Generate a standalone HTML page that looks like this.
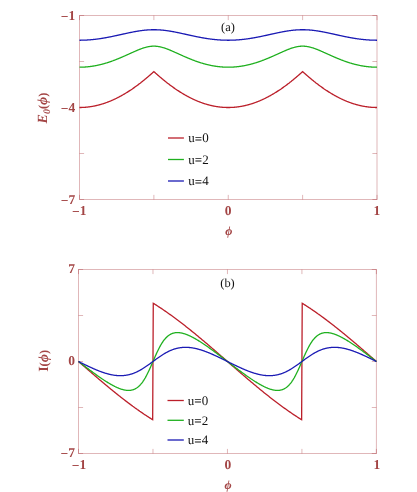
<!DOCTYPE html>
<html><head><meta charset="utf-8"><title>plot</title>
<style>
html,body{margin:0;padding:0;background:#fff;}
body{width:417px;height:492px;overflow:hidden;font-family:"Liberation Serif",serif;}
svg{display:block;will-change:transform;}
text{font-family:"Liberation Serif",serif;text-rendering:geometricPrecision;}
.tk{font-size:13.5px;font-weight:bold;fill:#a34545;}
.lg{font-size:13px;fill:#111;}
.ti{font-size:12.4px;fill:#111;}
.ax{font-size:14px;font-weight:bold;font-style:italic;fill:#a34545;}
</style></head><body>
<svg width="417" height="492" viewBox="0 0 417 492">
<rect width="417" height="492" fill="#fff"/>
<rect x="79.5" y="15.5" width="297.5" height="184.0" fill="none" stroke="#aa3c41" stroke-opacity="0.37" stroke-width="1"/><path d="M79.50,199.5v-4.6M79.50,15.5v4.6M79.5,15.50h4.6M377.0,15.50h-4.6M153.88,199.5v-4.6M153.88,15.5v4.6M79.5,61.50h4.6M377.0,61.50h-4.6M228.25,199.5v-4.6M228.25,15.5v4.6M79.5,107.50h4.6M377.0,107.50h-4.6M302.62,199.5v-4.6M302.62,15.5v4.6M79.5,153.50h4.6M377.0,153.50h-4.6M377.00,199.5v-4.6M377.00,15.5v4.6M79.5,199.50h4.6M377.0,199.50h-4.6" stroke="#aa3c41" stroke-opacity="0.37" stroke-width="1" fill="none"/>
<rect x="78.5" y="269.5" width="297.9" height="184.0" fill="none" stroke="#aa3c41" stroke-opacity="0.37" stroke-width="1"/><path d="M78.50,453.5v-4.6M78.50,269.5v4.6M78.5,269.50h4.6M376.4,269.50h-4.6M152.97,453.5v-4.6M152.97,269.5v4.6M78.5,315.50h4.6M376.4,315.50h-4.6M227.45,453.5v-4.6M227.45,269.5v4.6M78.5,361.50h4.6M376.4,361.50h-4.6M301.92,453.5v-4.6M301.92,269.5v4.6M78.5,407.50h4.6M376.4,407.50h-4.6M376.40,453.5v-4.6M376.40,269.5v4.6M78.5,453.50h4.6M376.4,453.50h-4.6" stroke="#aa3c41" stroke-opacity="0.37" stroke-width="1" fill="none"/>
<g fill="none" stroke-width="1.3" stroke-linejoin="miter">
<path d="M79.50,107.50 L79.87,107.50 L80.24,107.50 L80.62,107.49 L80.99,107.48 L81.36,107.48 L81.73,107.47 L82.10,107.45 L82.48,107.44 L82.85,107.42 L83.22,107.41 L83.59,107.39 L83.96,107.36 L84.33,107.34 L84.71,107.31 L85.08,107.29 L85.45,107.26 L85.82,107.23 L86.19,107.19 L86.57,107.16 L86.94,107.12 L87.31,107.08 L87.68,107.04 L88.05,107.00 L88.43,106.96 L88.80,106.91 L89.17,106.86 L89.54,106.81 L89.91,106.76 L90.28,106.71 L90.66,106.65 L91.03,106.59 L91.40,106.53 L91.77,106.47 L92.14,106.41 L92.52,106.34 L92.89,106.28 L93.26,106.21 L93.63,106.14 L94.00,106.06 L94.38,105.99 L94.75,105.91 L95.12,105.84 L95.49,105.76 L95.86,105.67 L96.23,105.59 L96.61,105.50 L96.98,105.42 L97.35,105.33 L97.72,105.24 L98.09,105.14 L98.47,105.05 L98.84,104.95 L99.21,104.85 L99.58,104.75 L99.95,104.65 L100.33,104.55 L100.70,104.44 L101.07,104.33 L101.44,104.22 L101.81,104.11 L102.18,104.00 L102.56,103.88 L102.93,103.77 L103.30,103.65 L103.67,103.53 L104.04,103.40 L104.42,103.28 L104.79,103.15 L105.16,103.02 L105.53,102.89 L105.90,102.76 L106.27,102.63 L106.65,102.49 L107.02,102.36 L107.39,102.22 L107.76,102.08 L108.13,101.93 L108.51,101.79 L108.88,101.64 L109.25,101.50 L109.62,101.35 L109.99,101.19 L110.37,101.04 L110.74,100.89 L111.11,100.73 L111.48,100.57 L111.85,100.41 L112.22,100.25 L112.60,100.08 L112.97,99.92 L113.34,99.75 L113.71,99.58 L114.08,99.41 L114.46,99.24 L114.83,99.06 L115.20,98.89 L115.57,98.71 L115.94,98.53 L116.32,98.35 L116.69,98.16 L117.06,97.98 L117.43,97.79 L117.80,97.60 L118.18,97.41 L118.55,97.22 L118.92,97.03 L119.29,96.83 L119.66,96.63 L120.03,96.43 L120.41,96.23 L120.78,96.03 L121.15,95.83 L121.52,95.62 L121.89,95.41 L122.27,95.20 L122.64,94.99 L123.01,94.78 L123.38,94.56 L123.75,94.35 L124.12,94.13 L124.50,93.91 L124.87,93.69 L125.24,93.47 L125.61,93.24 L125.98,93.02 L126.36,92.79 L126.73,92.56 L127.10,92.33 L127.47,92.09 L127.84,91.86 L128.22,91.62 L128.59,91.39 L128.96,91.15 L129.33,90.90 L129.70,90.66 L130.08,90.42 L130.45,90.17 L130.82,89.92 L131.19,89.67 L131.56,89.42 L131.93,89.17 L132.31,88.92 L132.68,88.66 L133.05,88.40 L133.42,88.15 L133.79,87.88 L134.17,87.62 L134.54,87.36 L134.91,87.09 L135.28,86.83 L135.65,86.56 L136.03,86.29 L136.40,86.02 L136.77,85.74 L137.14,85.47 L137.51,85.19 L137.88,84.92 L138.26,84.64 L138.63,84.36 L139.00,84.07 L139.37,83.79 L139.74,83.50 L140.12,83.22 L140.49,82.93 L140.86,82.64 L141.23,82.35 L141.60,82.05 L141.97,81.76 L142.35,81.46 L142.72,81.17 L143.09,80.87 L143.46,80.57 L143.83,80.26 L144.21,79.96 L144.58,79.66 L144.95,79.35 L145.32,79.04 L145.69,78.73 L146.07,78.42 L146.44,78.11 L146.81,77.80 L147.18,77.48 L147.55,77.16 L147.93,76.85 L148.30,76.53 L148.67,76.21 L149.04,75.88 L149.41,75.56 L149.78,75.24 L150.16,74.91 L150.53,74.58 L150.90,74.25 L151.27,73.92 L151.64,73.59 L152.02,73.26 L152.39,72.92 L152.76,72.59 L153.13,72.25 L153.50,71.91 L153.88,71.57 L154.25,71.91 L154.62,72.25 L154.99,72.59 L155.36,72.92 L155.73,73.26 L156.11,73.59 L156.48,73.92 L156.85,74.25 L157.22,74.58 L157.59,74.91 L157.97,75.24 L158.34,75.56 L158.71,75.88 L159.08,76.21 L159.45,76.53 L159.82,76.85 L160.20,77.16 L160.57,77.48 L160.94,77.80 L161.31,78.11 L161.68,78.42 L162.06,78.73 L162.43,79.04 L162.80,79.35 L163.17,79.66 L163.54,79.96 L163.92,80.26 L164.29,80.57 L164.66,80.87 L165.03,81.17 L165.40,81.46 L165.77,81.76 L166.15,82.05 L166.52,82.35 L166.89,82.64 L167.26,82.93 L167.63,83.22 L168.01,83.50 L168.38,83.79 L168.75,84.07 L169.12,84.36 L169.49,84.64 L169.87,84.92 L170.24,85.19 L170.61,85.47 L170.98,85.74 L171.35,86.02 L171.72,86.29 L172.10,86.56 L172.47,86.83 L172.84,87.09 L173.21,87.36 L173.58,87.62 L173.96,87.88 L174.33,88.15 L174.70,88.40 L175.07,88.66 L175.44,88.92 L175.82,89.17 L176.19,89.42 L176.56,89.67 L176.93,89.92 L177.30,90.17 L177.68,90.42 L178.05,90.66 L178.42,90.90 L178.79,91.15 L179.16,91.39 L179.53,91.62 L179.91,91.86 L180.28,92.09 L180.65,92.33 L181.02,92.56 L181.39,92.79 L181.77,93.02 L182.14,93.24 L182.51,93.47 L182.88,93.69 L183.25,93.91 L183.62,94.13 L184.00,94.35 L184.37,94.56 L184.74,94.78 L185.11,94.99 L185.48,95.20 L185.86,95.41 L186.23,95.62 L186.60,95.83 L186.97,96.03 L187.34,96.23 L187.72,96.43 L188.09,96.63 L188.46,96.83 L188.83,97.03 L189.20,97.22 L189.57,97.41 L189.95,97.60 L190.32,97.79 L190.69,97.98 L191.06,98.16 L191.43,98.35 L191.81,98.53 L192.18,98.71 L192.55,98.89 L192.92,99.06 L193.29,99.24 L193.67,99.41 L194.04,99.58 L194.41,99.75 L194.78,99.92 L195.15,100.08 L195.53,100.25 L195.90,100.41 L196.27,100.57 L196.64,100.73 L197.01,100.89 L197.38,101.04 L197.76,101.19 L198.13,101.35 L198.50,101.50 L198.87,101.64 L199.24,101.79 L199.62,101.93 L199.99,102.08 L200.36,102.22 L200.73,102.36 L201.10,102.49 L201.48,102.63 L201.85,102.76 L202.22,102.89 L202.59,103.02 L202.96,103.15 L203.33,103.28 L203.71,103.40 L204.08,103.53 L204.45,103.65 L204.82,103.77 L205.19,103.88 L205.57,104.00 L205.94,104.11 L206.31,104.22 L206.68,104.33 L207.05,104.44 L207.43,104.55 L207.80,104.65 L208.17,104.75 L208.54,104.85 L208.91,104.95 L209.28,105.05 L209.66,105.14 L210.03,105.24 L210.40,105.33 L210.77,105.42 L211.14,105.50 L211.52,105.59 L211.89,105.67 L212.26,105.76 L212.63,105.84 L213.00,105.91 L213.38,105.99 L213.75,106.06 L214.12,106.14 L214.49,106.21 L214.86,106.28 L215.23,106.34 L215.61,106.41 L215.98,106.47 L216.35,106.53 L216.72,106.59 L217.09,106.65 L217.47,106.71 L217.84,106.76 L218.21,106.81 L218.58,106.86 L218.95,106.91 L219.33,106.96 L219.70,107.00 L220.07,107.04 L220.44,107.08 L220.81,107.12 L221.18,107.16 L221.56,107.19 L221.93,107.23 L222.30,107.26 L222.67,107.29 L223.04,107.31 L223.42,107.34 L223.79,107.36 L224.16,107.39 L224.53,107.41 L224.90,107.42 L225.28,107.44 L225.65,107.45 L226.02,107.47 L226.39,107.48 L226.76,107.48 L227.13,107.49 L227.51,107.50 L227.88,107.50 L228.25,107.50 L228.62,107.50 L228.99,107.50 L229.37,107.49 L229.74,107.48 L230.11,107.48 L230.48,107.47 L230.85,107.45 L231.22,107.44 L231.60,107.42 L231.97,107.41 L232.34,107.39 L232.71,107.36 L233.08,107.34 L233.46,107.31 L233.83,107.29 L234.20,107.26 L234.57,107.23 L234.94,107.19 L235.32,107.16 L235.69,107.12 L236.06,107.08 L236.43,107.04 L236.80,107.00 L237.18,106.96 L237.55,106.91 L237.92,106.86 L238.29,106.81 L238.66,106.76 L239.03,106.71 L239.41,106.65 L239.78,106.59 L240.15,106.53 L240.52,106.47 L240.89,106.41 L241.27,106.34 L241.64,106.28 L242.01,106.21 L242.38,106.14 L242.75,106.06 L243.12,105.99 L243.50,105.91 L243.87,105.84 L244.24,105.76 L244.61,105.67 L244.98,105.59 L245.36,105.50 L245.73,105.42 L246.10,105.33 L246.47,105.24 L246.84,105.14 L247.22,105.05 L247.59,104.95 L247.96,104.85 L248.33,104.75 L248.70,104.65 L249.08,104.55 L249.45,104.44 L249.82,104.33 L250.19,104.22 L250.56,104.11 L250.93,104.00 L251.31,103.88 L251.68,103.77 L252.05,103.65 L252.42,103.53 L252.79,103.40 L253.17,103.28 L253.54,103.15 L253.91,103.02 L254.28,102.89 L254.65,102.76 L255.02,102.63 L255.40,102.49 L255.77,102.36 L256.14,102.22 L256.51,102.08 L256.88,101.93 L257.26,101.79 L257.63,101.64 L258.00,101.50 L258.37,101.35 L258.74,101.19 L259.12,101.04 L259.49,100.89 L259.86,100.73 L260.23,100.57 L260.60,100.41 L260.98,100.25 L261.35,100.08 L261.72,99.92 L262.09,99.75 L262.46,99.58 L262.83,99.41 L263.21,99.24 L263.58,99.06 L263.95,98.89 L264.32,98.71 L264.69,98.53 L265.07,98.35 L265.44,98.16 L265.81,97.98 L266.18,97.79 L266.55,97.60 L266.93,97.41 L267.30,97.22 L267.67,97.03 L268.04,96.83 L268.41,96.63 L268.78,96.43 L269.16,96.23 L269.53,96.03 L269.90,95.83 L270.27,95.62 L270.64,95.41 L271.02,95.20 L271.39,94.99 L271.76,94.78 L272.13,94.56 L272.50,94.35 L272.88,94.13 L273.25,93.91 L273.62,93.69 L273.99,93.47 L274.36,93.24 L274.73,93.02 L275.11,92.79 L275.48,92.56 L275.85,92.33 L276.22,92.09 L276.59,91.86 L276.97,91.62 L277.34,91.39 L277.71,91.15 L278.08,90.90 L278.45,90.66 L278.83,90.42 L279.20,90.17 L279.57,89.92 L279.94,89.67 L280.31,89.42 L280.68,89.17 L281.06,88.92 L281.43,88.66 L281.80,88.40 L282.17,88.15 L282.54,87.88 L282.92,87.62 L283.29,87.36 L283.66,87.09 L284.03,86.83 L284.40,86.56 L284.77,86.29 L285.15,86.02 L285.52,85.74 L285.89,85.47 L286.26,85.19 L286.63,84.92 L287.01,84.64 L287.38,84.36 L287.75,84.07 L288.12,83.79 L288.49,83.50 L288.87,83.22 L289.24,82.93 L289.61,82.64 L289.98,82.35 L290.35,82.05 L290.73,81.76 L291.10,81.46 L291.47,81.17 L291.84,80.87 L292.21,80.57 L292.58,80.26 L292.96,79.96 L293.33,79.66 L293.70,79.35 L294.07,79.04 L294.44,78.73 L294.82,78.42 L295.19,78.11 L295.56,77.80 L295.93,77.48 L296.30,77.16 L296.67,76.85 L297.05,76.53 L297.42,76.21 L297.79,75.88 L298.16,75.56 L298.53,75.24 L298.91,74.91 L299.28,74.58 L299.65,74.25 L300.02,73.92 L300.39,73.59 L300.77,73.26 L301.14,72.92 L301.51,72.59 L301.88,72.25 L302.25,71.91 L302.62,71.57 L303.00,71.91 L303.37,72.25 L303.74,72.59 L304.11,72.92 L304.48,73.26 L304.86,73.59 L305.23,73.92 L305.60,74.25 L305.97,74.58 L306.34,74.91 L306.72,75.24 L307.09,75.56 L307.46,75.88 L307.83,76.21 L308.20,76.53 L308.58,76.85 L308.95,77.16 L309.32,77.48 L309.69,77.80 L310.06,78.11 L310.43,78.42 L310.81,78.73 L311.18,79.04 L311.55,79.35 L311.92,79.66 L312.29,79.96 L312.67,80.26 L313.04,80.57 L313.41,80.87 L313.78,81.17 L314.15,81.46 L314.52,81.76 L314.90,82.05 L315.27,82.35 L315.64,82.64 L316.01,82.93 L316.38,83.22 L316.76,83.50 L317.13,83.79 L317.50,84.07 L317.87,84.36 L318.24,84.64 L318.62,84.92 L318.99,85.19 L319.36,85.47 L319.73,85.74 L320.10,86.02 L320.48,86.29 L320.85,86.56 L321.22,86.83 L321.59,87.09 L321.96,87.36 L322.33,87.62 L322.71,87.88 L323.08,88.15 L323.45,88.40 L323.82,88.66 L324.19,88.92 L324.57,89.17 L324.94,89.42 L325.31,89.67 L325.68,89.92 L326.05,90.17 L326.43,90.42 L326.80,90.66 L327.17,90.90 L327.54,91.15 L327.91,91.39 L328.28,91.62 L328.66,91.86 L329.03,92.09 L329.40,92.33 L329.77,92.56 L330.14,92.79 L330.52,93.02 L330.89,93.24 L331.26,93.47 L331.63,93.69 L332.00,93.91 L332.38,94.13 L332.75,94.35 L333.12,94.56 L333.49,94.78 L333.86,94.99 L334.23,95.20 L334.61,95.41 L334.98,95.62 L335.35,95.83 L335.72,96.03 L336.09,96.23 L336.47,96.43 L336.84,96.63 L337.21,96.83 L337.58,97.03 L337.95,97.22 L338.32,97.41 L338.70,97.60 L339.07,97.79 L339.44,97.98 L339.81,98.16 L340.18,98.35 L340.56,98.53 L340.93,98.71 L341.30,98.89 L341.67,99.06 L342.04,99.24 L342.42,99.41 L342.79,99.58 L343.16,99.75 L343.53,99.92 L343.90,100.08 L344.27,100.25 L344.65,100.41 L345.02,100.57 L345.39,100.73 L345.76,100.89 L346.13,101.04 L346.51,101.19 L346.88,101.35 L347.25,101.50 L347.62,101.64 L347.99,101.79 L348.37,101.93 L348.74,102.08 L349.11,102.22 L349.48,102.36 L349.85,102.49 L350.23,102.63 L350.60,102.76 L350.97,102.89 L351.34,103.02 L351.71,103.15 L352.08,103.28 L352.46,103.40 L352.83,103.53 L353.20,103.65 L353.57,103.77 L353.94,103.88 L354.32,104.00 L354.69,104.11 L355.06,104.22 L355.43,104.33 L355.80,104.44 L356.18,104.55 L356.55,104.65 L356.92,104.75 L357.29,104.85 L357.66,104.95 L358.03,105.05 L358.41,105.14 L358.78,105.24 L359.15,105.33 L359.52,105.42 L359.89,105.50 L360.27,105.59 L360.64,105.67 L361.01,105.76 L361.38,105.84 L361.75,105.91 L362.12,105.99 L362.50,106.06 L362.87,106.14 L363.24,106.21 L363.61,106.28 L363.98,106.34 L364.36,106.41 L364.73,106.47 L365.10,106.53 L365.47,106.59 L365.84,106.65 L366.22,106.71 L366.59,106.76 L366.96,106.81 L367.33,106.86 L367.70,106.91 L368.07,106.96 L368.45,107.00 L368.82,107.04 L369.19,107.08 L369.56,107.12 L369.93,107.16 L370.31,107.19 L370.68,107.23 L371.05,107.26 L371.42,107.29 L371.79,107.31 L372.17,107.34 L372.54,107.36 L372.91,107.39 L373.28,107.41 L373.65,107.42 L374.02,107.44 L374.40,107.45 L374.77,107.47 L375.14,107.48 L375.51,107.48 L375.88,107.49 L376.26,107.50 L376.63,107.50 L377.00,107.50" stroke="#bb1f2a"/>
<path d="M79.50,67.20 L79.87,67.20 L80.24,67.20 L80.62,67.19 L80.99,67.19 L81.36,67.18 L81.73,67.17 L82.10,67.16 L82.48,67.15 L82.85,67.13 L83.22,67.12 L83.59,67.10 L83.96,67.08 L84.33,67.06 L84.71,67.04 L85.08,67.01 L85.45,66.99 L85.82,66.96 L86.19,66.93 L86.57,66.90 L86.94,66.87 L87.31,66.83 L87.68,66.80 L88.05,66.76 L88.43,66.72 L88.80,66.68 L89.17,66.64 L89.54,66.60 L89.91,66.55 L90.28,66.50 L90.66,66.46 L91.03,66.40 L91.40,66.35 L91.77,66.30 L92.14,66.24 L92.52,66.19 L92.89,66.13 L93.26,66.07 L93.63,66.01 L94.00,65.95 L94.38,65.88 L94.75,65.81 L95.12,65.75 L95.49,65.68 L95.86,65.61 L96.23,65.53 L96.61,65.46 L96.98,65.38 L97.35,65.31 L97.72,65.23 L98.09,65.15 L98.47,65.07 L98.84,64.98 L99.21,64.90 L99.58,64.81 L99.95,64.72 L100.33,64.63 L100.70,64.54 L101.07,64.45 L101.44,64.36 L101.81,64.26 L102.18,64.16 L102.56,64.06 L102.93,63.96 L103.30,63.86 L103.67,63.76 L104.04,63.66 L104.42,63.55 L104.79,63.44 L105.16,63.33 L105.53,63.22 L105.90,63.11 L106.27,63.00 L106.65,62.89 L107.02,62.77 L107.39,62.65 L107.76,62.53 L108.13,62.41 L108.51,62.29 L108.88,62.17 L109.25,62.05 L109.62,61.92 L109.99,61.80 L110.37,61.67 L110.74,61.54 L111.11,61.41 L111.48,61.28 L111.85,61.14 L112.22,61.01 L112.60,60.88 L112.97,60.74 L113.34,60.60 L113.71,60.46 L114.08,60.32 L114.46,60.18 L114.83,60.04 L115.20,59.90 L115.57,59.75 L115.94,59.61 L116.32,59.46 L116.69,59.31 L117.06,59.16 L117.43,59.01 L117.80,58.86 L118.18,58.71 L118.55,58.56 L118.92,58.40 L119.29,58.25 L119.66,58.09 L120.03,57.94 L120.41,57.78 L120.78,57.62 L121.15,57.46 L121.52,57.31 L121.89,57.15 L122.27,56.98 L122.64,56.82 L123.01,56.66 L123.38,56.50 L123.75,56.33 L124.12,56.17 L124.50,56.00 L124.87,55.84 L125.24,55.67 L125.61,55.51 L125.98,55.34 L126.36,55.17 L126.73,55.01 L127.10,54.84 L127.47,54.67 L127.84,54.50 L128.22,54.33 L128.59,54.17 L128.96,54.00 L129.33,53.83 L129.70,53.66 L130.08,53.49 L130.45,53.32 L130.82,53.15 L131.19,52.99 L131.56,52.82 L131.93,52.65 L132.31,52.48 L132.68,52.32 L133.05,52.15 L133.42,51.98 L133.79,51.82 L134.17,51.65 L134.54,51.49 L134.91,51.33 L135.28,51.17 L135.65,51.00 L136.03,50.84 L136.40,50.68 L136.77,50.53 L137.14,50.37 L137.51,50.21 L137.88,50.06 L138.26,49.91 L138.63,49.76 L139.00,49.61 L139.37,49.46 L139.74,49.32 L140.12,49.17 L140.49,49.03 L140.86,48.89 L141.23,48.75 L141.60,48.62 L141.97,48.49 L142.35,48.36 L142.72,48.23 L143.09,48.11 L143.46,47.98 L143.83,47.87 L144.21,47.75 L144.58,47.64 L144.95,47.53 L145.32,47.43 L145.69,47.32 L146.07,47.23 L146.44,47.13 L146.81,47.04 L147.18,46.95 L147.55,46.87 L147.93,46.79 L148.30,46.72 L148.67,46.65 L149.04,46.58 L149.41,46.52 L149.78,46.47 L150.16,46.42 L150.53,46.37 L150.90,46.33 L151.27,46.29 L151.64,46.26 L152.02,46.23 L152.39,46.21 L152.76,46.19 L153.13,46.18 L153.50,46.17 L153.88,46.17 L154.25,46.17 L154.62,46.18 L154.99,46.19 L155.36,46.21 L155.73,46.23 L156.11,46.26 L156.48,46.29 L156.85,46.33 L157.22,46.37 L157.59,46.42 L157.97,46.47 L158.34,46.52 L158.71,46.58 L159.08,46.65 L159.45,46.72 L159.82,46.79 L160.20,46.87 L160.57,46.95 L160.94,47.04 L161.31,47.13 L161.68,47.23 L162.06,47.32 L162.43,47.43 L162.80,47.53 L163.17,47.64 L163.54,47.75 L163.92,47.87 L164.29,47.98 L164.66,48.11 L165.03,48.23 L165.40,48.36 L165.77,48.49 L166.15,48.62 L166.52,48.75 L166.89,48.89 L167.26,49.03 L167.63,49.17 L168.01,49.32 L168.38,49.46 L168.75,49.61 L169.12,49.76 L169.49,49.91 L169.87,50.06 L170.24,50.21 L170.61,50.37 L170.98,50.53 L171.35,50.68 L171.72,50.84 L172.10,51.00 L172.47,51.17 L172.84,51.33 L173.21,51.49 L173.58,51.65 L173.96,51.82 L174.33,51.98 L174.70,52.15 L175.07,52.32 L175.44,52.48 L175.82,52.65 L176.19,52.82 L176.56,52.99 L176.93,53.15 L177.30,53.32 L177.68,53.49 L178.05,53.66 L178.42,53.83 L178.79,54.00 L179.16,54.17 L179.53,54.33 L179.91,54.50 L180.28,54.67 L180.65,54.84 L181.02,55.01 L181.39,55.17 L181.77,55.34 L182.14,55.51 L182.51,55.67 L182.88,55.84 L183.25,56.00 L183.62,56.17 L184.00,56.33 L184.37,56.50 L184.74,56.66 L185.11,56.82 L185.48,56.98 L185.86,57.15 L186.23,57.31 L186.60,57.46 L186.97,57.62 L187.34,57.78 L187.72,57.94 L188.09,58.09 L188.46,58.25 L188.83,58.40 L189.20,58.56 L189.57,58.71 L189.95,58.86 L190.32,59.01 L190.69,59.16 L191.06,59.31 L191.43,59.46 L191.81,59.61 L192.18,59.75 L192.55,59.90 L192.92,60.04 L193.29,60.18 L193.67,60.32 L194.04,60.46 L194.41,60.60 L194.78,60.74 L195.15,60.88 L195.53,61.01 L195.90,61.14 L196.27,61.28 L196.64,61.41 L197.01,61.54 L197.38,61.67 L197.76,61.80 L198.13,61.92 L198.50,62.05 L198.87,62.17 L199.24,62.29 L199.62,62.41 L199.99,62.53 L200.36,62.65 L200.73,62.77 L201.10,62.89 L201.48,63.00 L201.85,63.11 L202.22,63.22 L202.59,63.33 L202.96,63.44 L203.33,63.55 L203.71,63.66 L204.08,63.76 L204.45,63.86 L204.82,63.96 L205.19,64.06 L205.57,64.16 L205.94,64.26 L206.31,64.36 L206.68,64.45 L207.05,64.54 L207.43,64.63 L207.80,64.72 L208.17,64.81 L208.54,64.90 L208.91,64.98 L209.28,65.07 L209.66,65.15 L210.03,65.23 L210.40,65.31 L210.77,65.38 L211.14,65.46 L211.52,65.53 L211.89,65.61 L212.26,65.68 L212.63,65.75 L213.00,65.81 L213.38,65.88 L213.75,65.95 L214.12,66.01 L214.49,66.07 L214.86,66.13 L215.23,66.19 L215.61,66.24 L215.98,66.30 L216.35,66.35 L216.72,66.40 L217.09,66.46 L217.47,66.50 L217.84,66.55 L218.21,66.60 L218.58,66.64 L218.95,66.68 L219.33,66.72 L219.70,66.76 L220.07,66.80 L220.44,66.83 L220.81,66.87 L221.18,66.90 L221.56,66.93 L221.93,66.96 L222.30,66.99 L222.67,67.01 L223.04,67.04 L223.42,67.06 L223.79,67.08 L224.16,67.10 L224.53,67.12 L224.90,67.13 L225.28,67.15 L225.65,67.16 L226.02,67.17 L226.39,67.18 L226.76,67.19 L227.13,67.19 L227.51,67.20 L227.88,67.20 L228.25,67.20 L228.62,67.20 L228.99,67.20 L229.37,67.19 L229.74,67.19 L230.11,67.18 L230.48,67.17 L230.85,67.16 L231.22,67.15 L231.60,67.13 L231.97,67.12 L232.34,67.10 L232.71,67.08 L233.08,67.06 L233.46,67.04 L233.83,67.01 L234.20,66.99 L234.57,66.96 L234.94,66.93 L235.32,66.90 L235.69,66.87 L236.06,66.83 L236.43,66.80 L236.80,66.76 L237.18,66.72 L237.55,66.68 L237.92,66.64 L238.29,66.60 L238.66,66.55 L239.03,66.50 L239.41,66.46 L239.78,66.40 L240.15,66.35 L240.52,66.30 L240.89,66.24 L241.27,66.19 L241.64,66.13 L242.01,66.07 L242.38,66.01 L242.75,65.95 L243.12,65.88 L243.50,65.81 L243.87,65.75 L244.24,65.68 L244.61,65.61 L244.98,65.53 L245.36,65.46 L245.73,65.38 L246.10,65.31 L246.47,65.23 L246.84,65.15 L247.22,65.07 L247.59,64.98 L247.96,64.90 L248.33,64.81 L248.70,64.72 L249.08,64.63 L249.45,64.54 L249.82,64.45 L250.19,64.36 L250.56,64.26 L250.93,64.16 L251.31,64.06 L251.68,63.96 L252.05,63.86 L252.42,63.76 L252.79,63.66 L253.17,63.55 L253.54,63.44 L253.91,63.33 L254.28,63.22 L254.65,63.11 L255.02,63.00 L255.40,62.89 L255.77,62.77 L256.14,62.65 L256.51,62.53 L256.88,62.41 L257.26,62.29 L257.63,62.17 L258.00,62.05 L258.37,61.92 L258.74,61.80 L259.12,61.67 L259.49,61.54 L259.86,61.41 L260.23,61.28 L260.60,61.14 L260.98,61.01 L261.35,60.88 L261.72,60.74 L262.09,60.60 L262.46,60.46 L262.83,60.32 L263.21,60.18 L263.58,60.04 L263.95,59.90 L264.32,59.75 L264.69,59.61 L265.07,59.46 L265.44,59.31 L265.81,59.16 L266.18,59.01 L266.55,58.86 L266.93,58.71 L267.30,58.56 L267.67,58.40 L268.04,58.25 L268.41,58.09 L268.78,57.94 L269.16,57.78 L269.53,57.62 L269.90,57.46 L270.27,57.31 L270.64,57.15 L271.02,56.98 L271.39,56.82 L271.76,56.66 L272.13,56.50 L272.50,56.33 L272.88,56.17 L273.25,56.00 L273.62,55.84 L273.99,55.67 L274.36,55.51 L274.73,55.34 L275.11,55.17 L275.48,55.01 L275.85,54.84 L276.22,54.67 L276.59,54.50 L276.97,54.33 L277.34,54.17 L277.71,54.00 L278.08,53.83 L278.45,53.66 L278.83,53.49 L279.20,53.32 L279.57,53.15 L279.94,52.99 L280.31,52.82 L280.68,52.65 L281.06,52.48 L281.43,52.32 L281.80,52.15 L282.17,51.98 L282.54,51.82 L282.92,51.65 L283.29,51.49 L283.66,51.33 L284.03,51.17 L284.40,51.00 L284.77,50.84 L285.15,50.68 L285.52,50.53 L285.89,50.37 L286.26,50.21 L286.63,50.06 L287.01,49.91 L287.38,49.76 L287.75,49.61 L288.12,49.46 L288.49,49.32 L288.87,49.17 L289.24,49.03 L289.61,48.89 L289.98,48.75 L290.35,48.62 L290.73,48.49 L291.10,48.36 L291.47,48.23 L291.84,48.11 L292.21,47.98 L292.58,47.87 L292.96,47.75 L293.33,47.64 L293.70,47.53 L294.07,47.43 L294.44,47.32 L294.82,47.23 L295.19,47.13 L295.56,47.04 L295.93,46.95 L296.30,46.87 L296.67,46.79 L297.05,46.72 L297.42,46.65 L297.79,46.58 L298.16,46.52 L298.53,46.47 L298.91,46.42 L299.28,46.37 L299.65,46.33 L300.02,46.29 L300.39,46.26 L300.77,46.23 L301.14,46.21 L301.51,46.19 L301.88,46.18 L302.25,46.17 L302.62,46.17 L303.00,46.17 L303.37,46.18 L303.74,46.19 L304.11,46.21 L304.48,46.23 L304.86,46.26 L305.23,46.29 L305.60,46.33 L305.97,46.37 L306.34,46.42 L306.72,46.47 L307.09,46.52 L307.46,46.58 L307.83,46.65 L308.20,46.72 L308.58,46.79 L308.95,46.87 L309.32,46.95 L309.69,47.04 L310.06,47.13 L310.43,47.23 L310.81,47.32 L311.18,47.43 L311.55,47.53 L311.92,47.64 L312.29,47.75 L312.67,47.87 L313.04,47.98 L313.41,48.11 L313.78,48.23 L314.15,48.36 L314.52,48.49 L314.90,48.62 L315.27,48.75 L315.64,48.89 L316.01,49.03 L316.38,49.17 L316.76,49.32 L317.13,49.46 L317.50,49.61 L317.87,49.76 L318.24,49.91 L318.62,50.06 L318.99,50.21 L319.36,50.37 L319.73,50.53 L320.10,50.68 L320.48,50.84 L320.85,51.00 L321.22,51.17 L321.59,51.33 L321.96,51.49 L322.33,51.65 L322.71,51.82 L323.08,51.98 L323.45,52.15 L323.82,52.32 L324.19,52.48 L324.57,52.65 L324.94,52.82 L325.31,52.99 L325.68,53.15 L326.05,53.32 L326.43,53.49 L326.80,53.66 L327.17,53.83 L327.54,54.00 L327.91,54.17 L328.28,54.33 L328.66,54.50 L329.03,54.67 L329.40,54.84 L329.77,55.01 L330.14,55.17 L330.52,55.34 L330.89,55.51 L331.26,55.67 L331.63,55.84 L332.00,56.00 L332.38,56.17 L332.75,56.33 L333.12,56.50 L333.49,56.66 L333.86,56.82 L334.23,56.98 L334.61,57.15 L334.98,57.31 L335.35,57.46 L335.72,57.62 L336.09,57.78 L336.47,57.94 L336.84,58.09 L337.21,58.25 L337.58,58.40 L337.95,58.56 L338.32,58.71 L338.70,58.86 L339.07,59.01 L339.44,59.16 L339.81,59.31 L340.18,59.46 L340.56,59.61 L340.93,59.75 L341.30,59.90 L341.67,60.04 L342.04,60.18 L342.42,60.32 L342.79,60.46 L343.16,60.60 L343.53,60.74 L343.90,60.88 L344.27,61.01 L344.65,61.14 L345.02,61.28 L345.39,61.41 L345.76,61.54 L346.13,61.67 L346.51,61.80 L346.88,61.92 L347.25,62.05 L347.62,62.17 L347.99,62.29 L348.37,62.41 L348.74,62.53 L349.11,62.65 L349.48,62.77 L349.85,62.89 L350.23,63.00 L350.60,63.11 L350.97,63.22 L351.34,63.33 L351.71,63.44 L352.08,63.55 L352.46,63.66 L352.83,63.76 L353.20,63.86 L353.57,63.96 L353.94,64.06 L354.32,64.16 L354.69,64.26 L355.06,64.36 L355.43,64.45 L355.80,64.54 L356.18,64.63 L356.55,64.72 L356.92,64.81 L357.29,64.90 L357.66,64.98 L358.03,65.07 L358.41,65.15 L358.78,65.23 L359.15,65.31 L359.52,65.38 L359.89,65.46 L360.27,65.53 L360.64,65.61 L361.01,65.68 L361.38,65.75 L361.75,65.81 L362.12,65.88 L362.50,65.95 L362.87,66.01 L363.24,66.07 L363.61,66.13 L363.98,66.19 L364.36,66.24 L364.73,66.30 L365.10,66.35 L365.47,66.40 L365.84,66.46 L366.22,66.50 L366.59,66.55 L366.96,66.60 L367.33,66.64 L367.70,66.68 L368.07,66.72 L368.45,66.76 L368.82,66.80 L369.19,66.83 L369.56,66.87 L369.93,66.90 L370.31,66.93 L370.68,66.96 L371.05,66.99 L371.42,67.01 L371.79,67.04 L372.17,67.06 L372.54,67.08 L372.91,67.10 L373.28,67.12 L373.65,67.13 L374.02,67.15 L374.40,67.16 L374.77,67.17 L375.14,67.18 L375.51,67.19 L375.88,67.19 L376.26,67.20 L376.63,67.20 L377.00,67.20" stroke="#1fb01f"/>
<path d="M79.50,40.23 L79.87,40.23 L80.24,40.23 L80.62,40.23 L80.99,40.22 L81.36,40.22 L81.73,40.21 L82.10,40.20 L82.48,40.20 L82.85,40.19 L83.22,40.18 L83.59,40.17 L83.96,40.15 L84.33,40.14 L84.71,40.12 L85.08,40.11 L85.45,40.09 L85.82,40.08 L86.19,40.06 L86.57,40.04 L86.94,40.02 L87.31,39.99 L87.68,39.97 L88.05,39.95 L88.43,39.92 L88.80,39.90 L89.17,39.87 L89.54,39.84 L89.91,39.81 L90.28,39.78 L90.66,39.75 L91.03,39.72 L91.40,39.69 L91.77,39.65 L92.14,39.62 L92.52,39.58 L92.89,39.54 L93.26,39.50 L93.63,39.47 L94.00,39.43 L94.38,39.38 L94.75,39.34 L95.12,39.30 L95.49,39.26 L95.86,39.21 L96.23,39.16 L96.61,39.12 L96.98,39.07 L97.35,39.02 L97.72,38.97 L98.09,38.92 L98.47,38.87 L98.84,38.82 L99.21,38.77 L99.58,38.71 L99.95,38.66 L100.33,38.60 L100.70,38.55 L101.07,38.49 L101.44,38.43 L101.81,38.37 L102.18,38.31 L102.56,38.25 L102.93,38.19 L103.30,38.13 L103.67,38.07 L104.04,38.00 L104.42,37.94 L104.79,37.87 L105.16,37.81 L105.53,37.74 L105.90,37.67 L106.27,37.61 L106.65,37.54 L107.02,37.47 L107.39,37.40 L107.76,37.33 L108.13,37.26 L108.51,37.19 L108.88,37.12 L109.25,37.04 L109.62,36.97 L109.99,36.90 L110.37,36.82 L110.74,36.75 L111.11,36.67 L111.48,36.60 L111.85,36.52 L112.22,36.44 L112.60,36.37 L112.97,36.29 L113.34,36.21 L113.71,36.13 L114.08,36.05 L114.46,35.97 L114.83,35.89 L115.20,35.81 L115.57,35.73 L115.94,35.65 L116.32,35.57 L116.69,35.49 L117.06,35.41 L117.43,35.33 L117.80,35.25 L118.18,35.17 L118.55,35.08 L118.92,35.00 L119.29,34.92 L119.66,34.84 L120.03,34.75 L120.41,34.67 L120.78,34.59 L121.15,34.51 L121.52,34.42 L121.89,34.34 L122.27,34.26 L122.64,34.18 L123.01,34.09 L123.38,34.01 L123.75,33.93 L124.12,33.85 L124.50,33.76 L124.87,33.68 L125.24,33.60 L125.61,33.52 L125.98,33.44 L126.36,33.36 L126.73,33.28 L127.10,33.20 L127.47,33.12 L127.84,33.04 L128.22,32.96 L128.59,32.88 L128.96,32.80 L129.33,32.72 L129.70,32.65 L130.08,32.57 L130.45,32.49 L130.82,32.42 L131.19,32.34 L131.56,32.27 L131.93,32.19 L132.31,32.12 L132.68,32.05 L133.05,31.98 L133.42,31.90 L133.79,31.83 L134.17,31.76 L134.54,31.69 L134.91,31.63 L135.28,31.56 L135.65,31.49 L136.03,31.43 L136.40,31.36 L136.77,31.30 L137.14,31.24 L137.51,31.18 L137.88,31.11 L138.26,31.06 L138.63,31.00 L139.00,30.94 L139.37,30.88 L139.74,30.83 L140.12,30.77 L140.49,30.72 L140.86,30.67 L141.23,30.62 L141.60,30.57 L141.97,30.52 L142.35,30.47 L142.72,30.43 L143.09,30.38 L143.46,30.34 L143.83,30.30 L144.21,30.26 L144.58,30.22 L144.95,30.18 L145.32,30.15 L145.69,30.11 L146.07,30.08 L146.44,30.05 L146.81,30.02 L147.18,29.99 L147.55,29.96 L147.93,29.94 L148.30,29.91 L148.67,29.89 L149.04,29.87 L149.41,29.85 L149.78,29.83 L150.16,29.81 L150.53,29.80 L150.90,29.78 L151.27,29.77 L151.64,29.76 L152.02,29.75 L152.39,29.75 L152.76,29.74 L153.13,29.74 L153.50,29.73 L153.88,29.73 L154.25,29.73 L154.62,29.74 L154.99,29.74 L155.36,29.75 L155.73,29.75 L156.11,29.76 L156.48,29.77 L156.85,29.78 L157.22,29.80 L157.59,29.81 L157.97,29.83 L158.34,29.85 L158.71,29.87 L159.08,29.89 L159.45,29.91 L159.82,29.94 L160.20,29.96 L160.57,29.99 L160.94,30.02 L161.31,30.05 L161.68,30.08 L162.06,30.11 L162.43,30.15 L162.80,30.18 L163.17,30.22 L163.54,30.26 L163.92,30.30 L164.29,30.34 L164.66,30.38 L165.03,30.43 L165.40,30.47 L165.77,30.52 L166.15,30.57 L166.52,30.62 L166.89,30.67 L167.26,30.72 L167.63,30.77 L168.01,30.83 L168.38,30.88 L168.75,30.94 L169.12,31.00 L169.49,31.06 L169.87,31.11 L170.24,31.18 L170.61,31.24 L170.98,31.30 L171.35,31.36 L171.72,31.43 L172.10,31.49 L172.47,31.56 L172.84,31.63 L173.21,31.69 L173.58,31.76 L173.96,31.83 L174.33,31.90 L174.70,31.98 L175.07,32.05 L175.44,32.12 L175.82,32.19 L176.19,32.27 L176.56,32.34 L176.93,32.42 L177.30,32.49 L177.68,32.57 L178.05,32.65 L178.42,32.72 L178.79,32.80 L179.16,32.88 L179.53,32.96 L179.91,33.04 L180.28,33.12 L180.65,33.20 L181.02,33.28 L181.39,33.36 L181.77,33.44 L182.14,33.52 L182.51,33.60 L182.88,33.68 L183.25,33.76 L183.62,33.85 L184.00,33.93 L184.37,34.01 L184.74,34.09 L185.11,34.18 L185.48,34.26 L185.86,34.34 L186.23,34.42 L186.60,34.51 L186.97,34.59 L187.34,34.67 L187.72,34.75 L188.09,34.84 L188.46,34.92 L188.83,35.00 L189.20,35.08 L189.57,35.17 L189.95,35.25 L190.32,35.33 L190.69,35.41 L191.06,35.49 L191.43,35.57 L191.81,35.65 L192.18,35.73 L192.55,35.81 L192.92,35.89 L193.29,35.97 L193.67,36.05 L194.04,36.13 L194.41,36.21 L194.78,36.29 L195.15,36.37 L195.53,36.44 L195.90,36.52 L196.27,36.60 L196.64,36.67 L197.01,36.75 L197.38,36.82 L197.76,36.90 L198.13,36.97 L198.50,37.04 L198.87,37.12 L199.24,37.19 L199.62,37.26 L199.99,37.33 L200.36,37.40 L200.73,37.47 L201.10,37.54 L201.48,37.61 L201.85,37.67 L202.22,37.74 L202.59,37.81 L202.96,37.87 L203.33,37.94 L203.71,38.00 L204.08,38.07 L204.45,38.13 L204.82,38.19 L205.19,38.25 L205.57,38.31 L205.94,38.37 L206.31,38.43 L206.68,38.49 L207.05,38.55 L207.43,38.60 L207.80,38.66 L208.17,38.71 L208.54,38.77 L208.91,38.82 L209.28,38.87 L209.66,38.92 L210.03,38.97 L210.40,39.02 L210.77,39.07 L211.14,39.12 L211.52,39.16 L211.89,39.21 L212.26,39.26 L212.63,39.30 L213.00,39.34 L213.38,39.38 L213.75,39.43 L214.12,39.47 L214.49,39.50 L214.86,39.54 L215.23,39.58 L215.61,39.62 L215.98,39.65 L216.35,39.69 L216.72,39.72 L217.09,39.75 L217.47,39.78 L217.84,39.81 L218.21,39.84 L218.58,39.87 L218.95,39.90 L219.33,39.92 L219.70,39.95 L220.07,39.97 L220.44,39.99 L220.81,40.02 L221.18,40.04 L221.56,40.06 L221.93,40.08 L222.30,40.09 L222.67,40.11 L223.04,40.12 L223.42,40.14 L223.79,40.15 L224.16,40.17 L224.53,40.18 L224.90,40.19 L225.28,40.20 L225.65,40.20 L226.02,40.21 L226.39,40.22 L226.76,40.22 L227.13,40.23 L227.51,40.23 L227.88,40.23 L228.25,40.23 L228.62,40.23 L228.99,40.23 L229.37,40.23 L229.74,40.22 L230.11,40.22 L230.48,40.21 L230.85,40.20 L231.22,40.20 L231.60,40.19 L231.97,40.18 L232.34,40.17 L232.71,40.15 L233.08,40.14 L233.46,40.12 L233.83,40.11 L234.20,40.09 L234.57,40.08 L234.94,40.06 L235.32,40.04 L235.69,40.02 L236.06,39.99 L236.43,39.97 L236.80,39.95 L237.18,39.92 L237.55,39.90 L237.92,39.87 L238.29,39.84 L238.66,39.81 L239.03,39.78 L239.41,39.75 L239.78,39.72 L240.15,39.69 L240.52,39.65 L240.89,39.62 L241.27,39.58 L241.64,39.54 L242.01,39.50 L242.38,39.47 L242.75,39.43 L243.12,39.38 L243.50,39.34 L243.87,39.30 L244.24,39.26 L244.61,39.21 L244.98,39.16 L245.36,39.12 L245.73,39.07 L246.10,39.02 L246.47,38.97 L246.84,38.92 L247.22,38.87 L247.59,38.82 L247.96,38.77 L248.33,38.71 L248.70,38.66 L249.08,38.60 L249.45,38.55 L249.82,38.49 L250.19,38.43 L250.56,38.37 L250.93,38.31 L251.31,38.25 L251.68,38.19 L252.05,38.13 L252.42,38.07 L252.79,38.00 L253.17,37.94 L253.54,37.87 L253.91,37.81 L254.28,37.74 L254.65,37.67 L255.02,37.61 L255.40,37.54 L255.77,37.47 L256.14,37.40 L256.51,37.33 L256.88,37.26 L257.26,37.19 L257.63,37.12 L258.00,37.04 L258.37,36.97 L258.74,36.90 L259.12,36.82 L259.49,36.75 L259.86,36.67 L260.23,36.60 L260.60,36.52 L260.98,36.44 L261.35,36.37 L261.72,36.29 L262.09,36.21 L262.46,36.13 L262.83,36.05 L263.21,35.97 L263.58,35.89 L263.95,35.81 L264.32,35.73 L264.69,35.65 L265.07,35.57 L265.44,35.49 L265.81,35.41 L266.18,35.33 L266.55,35.25 L266.93,35.17 L267.30,35.08 L267.67,35.00 L268.04,34.92 L268.41,34.84 L268.78,34.75 L269.16,34.67 L269.53,34.59 L269.90,34.51 L270.27,34.42 L270.64,34.34 L271.02,34.26 L271.39,34.18 L271.76,34.09 L272.13,34.01 L272.50,33.93 L272.88,33.85 L273.25,33.76 L273.62,33.68 L273.99,33.60 L274.36,33.52 L274.73,33.44 L275.11,33.36 L275.48,33.28 L275.85,33.20 L276.22,33.12 L276.59,33.04 L276.97,32.96 L277.34,32.88 L277.71,32.80 L278.08,32.72 L278.45,32.65 L278.83,32.57 L279.20,32.49 L279.57,32.42 L279.94,32.34 L280.31,32.27 L280.68,32.19 L281.06,32.12 L281.43,32.05 L281.80,31.98 L282.17,31.90 L282.54,31.83 L282.92,31.76 L283.29,31.69 L283.66,31.63 L284.03,31.56 L284.40,31.49 L284.77,31.43 L285.15,31.36 L285.52,31.30 L285.89,31.24 L286.26,31.18 L286.63,31.11 L287.01,31.06 L287.38,31.00 L287.75,30.94 L288.12,30.88 L288.49,30.83 L288.87,30.77 L289.24,30.72 L289.61,30.67 L289.98,30.62 L290.35,30.57 L290.73,30.52 L291.10,30.47 L291.47,30.43 L291.84,30.38 L292.21,30.34 L292.58,30.30 L292.96,30.26 L293.33,30.22 L293.70,30.18 L294.07,30.15 L294.44,30.11 L294.82,30.08 L295.19,30.05 L295.56,30.02 L295.93,29.99 L296.30,29.96 L296.67,29.94 L297.05,29.91 L297.42,29.89 L297.79,29.87 L298.16,29.85 L298.53,29.83 L298.91,29.81 L299.28,29.80 L299.65,29.78 L300.02,29.77 L300.39,29.76 L300.77,29.75 L301.14,29.75 L301.51,29.74 L301.88,29.74 L302.25,29.73 L302.62,29.73 L303.00,29.73 L303.37,29.74 L303.74,29.74 L304.11,29.75 L304.48,29.75 L304.86,29.76 L305.23,29.77 L305.60,29.78 L305.97,29.80 L306.34,29.81 L306.72,29.83 L307.09,29.85 L307.46,29.87 L307.83,29.89 L308.20,29.91 L308.58,29.94 L308.95,29.96 L309.32,29.99 L309.69,30.02 L310.06,30.05 L310.43,30.08 L310.81,30.11 L311.18,30.15 L311.55,30.18 L311.92,30.22 L312.29,30.26 L312.67,30.30 L313.04,30.34 L313.41,30.38 L313.78,30.43 L314.15,30.47 L314.52,30.52 L314.90,30.57 L315.27,30.62 L315.64,30.67 L316.01,30.72 L316.38,30.77 L316.76,30.83 L317.13,30.88 L317.50,30.94 L317.87,31.00 L318.24,31.06 L318.62,31.11 L318.99,31.18 L319.36,31.24 L319.73,31.30 L320.10,31.36 L320.48,31.43 L320.85,31.49 L321.22,31.56 L321.59,31.63 L321.96,31.69 L322.33,31.76 L322.71,31.83 L323.08,31.90 L323.45,31.98 L323.82,32.05 L324.19,32.12 L324.57,32.19 L324.94,32.27 L325.31,32.34 L325.68,32.42 L326.05,32.49 L326.43,32.57 L326.80,32.65 L327.17,32.72 L327.54,32.80 L327.91,32.88 L328.28,32.96 L328.66,33.04 L329.03,33.12 L329.40,33.20 L329.77,33.28 L330.14,33.36 L330.52,33.44 L330.89,33.52 L331.26,33.60 L331.63,33.68 L332.00,33.76 L332.38,33.85 L332.75,33.93 L333.12,34.01 L333.49,34.09 L333.86,34.18 L334.23,34.26 L334.61,34.34 L334.98,34.42 L335.35,34.51 L335.72,34.59 L336.09,34.67 L336.47,34.75 L336.84,34.84 L337.21,34.92 L337.58,35.00 L337.95,35.08 L338.32,35.17 L338.70,35.25 L339.07,35.33 L339.44,35.41 L339.81,35.49 L340.18,35.57 L340.56,35.65 L340.93,35.73 L341.30,35.81 L341.67,35.89 L342.04,35.97 L342.42,36.05 L342.79,36.13 L343.16,36.21 L343.53,36.29 L343.90,36.37 L344.27,36.44 L344.65,36.52 L345.02,36.60 L345.39,36.67 L345.76,36.75 L346.13,36.82 L346.51,36.90 L346.88,36.97 L347.25,37.04 L347.62,37.12 L347.99,37.19 L348.37,37.26 L348.74,37.33 L349.11,37.40 L349.48,37.47 L349.85,37.54 L350.23,37.61 L350.60,37.67 L350.97,37.74 L351.34,37.81 L351.71,37.87 L352.08,37.94 L352.46,38.00 L352.83,38.07 L353.20,38.13 L353.57,38.19 L353.94,38.25 L354.32,38.31 L354.69,38.37 L355.06,38.43 L355.43,38.49 L355.80,38.55 L356.18,38.60 L356.55,38.66 L356.92,38.71 L357.29,38.77 L357.66,38.82 L358.03,38.87 L358.41,38.92 L358.78,38.97 L359.15,39.02 L359.52,39.07 L359.89,39.12 L360.27,39.16 L360.64,39.21 L361.01,39.26 L361.38,39.30 L361.75,39.34 L362.12,39.38 L362.50,39.43 L362.87,39.47 L363.24,39.50 L363.61,39.54 L363.98,39.58 L364.36,39.62 L364.73,39.65 L365.10,39.69 L365.47,39.72 L365.84,39.75 L366.22,39.78 L366.59,39.81 L366.96,39.84 L367.33,39.87 L367.70,39.90 L368.07,39.92 L368.45,39.95 L368.82,39.97 L369.19,39.99 L369.56,40.02 L369.93,40.04 L370.31,40.06 L370.68,40.08 L371.05,40.09 L371.42,40.11 L371.79,40.12 L372.17,40.14 L372.54,40.15 L372.91,40.17 L373.28,40.18 L373.65,40.19 L374.02,40.20 L374.40,40.20 L374.77,40.21 L375.14,40.22 L375.51,40.22 L375.88,40.23 L376.26,40.23 L376.63,40.23 L377.00,40.23" stroke="#1a1ab4"/>
<path d="M78.50,361.50 L79.00,361.93 L79.50,362.37 L79.99,362.80 L80.49,363.23 L80.99,363.67 L81.49,364.10 L81.98,364.53 L82.48,364.97 L82.98,365.40 L83.48,365.83 L83.98,366.27 L84.47,366.70 L84.97,367.13 L85.47,367.56 L85.97,368.00 L86.47,368.43 L86.96,368.86 L87.46,369.29 L87.96,369.72 L88.46,370.15 L88.95,370.59 L89.45,371.02 L89.95,371.45 L90.45,371.88 L90.95,372.31 L91.44,372.74 L91.94,373.17 L92.44,373.60 L92.94,374.02 L93.43,374.45 L93.93,374.88 L94.43,375.31 L94.93,375.74 L95.43,376.16 L95.92,376.59 L96.42,377.01 L96.92,377.44 L97.42,377.87 L97.92,378.29 L98.41,378.71 L98.91,379.14 L99.41,379.56 L99.91,379.98 L100.40,380.41 L100.90,380.83 L101.40,381.25 L101.90,381.67 L102.40,382.09 L102.89,382.51 L103.39,382.93 L103.89,383.35 L104.39,383.77 L104.89,384.18 L105.38,384.60 L105.88,385.01 L106.38,385.43 L106.88,385.84 L107.37,386.26 L107.87,386.67 L108.37,387.08 L108.87,387.50 L109.37,387.91 L109.86,388.32 L110.36,388.73 L110.86,389.14 L111.36,389.54 L111.85,389.95 L112.35,390.36 L112.85,390.76 L113.35,391.17 L113.85,391.57 L114.34,391.98 L114.84,392.38 L115.34,392.78 L115.84,393.18 L116.34,393.58 L116.83,393.98 L117.33,394.38 L117.83,394.78 L118.33,395.17 L118.82,395.57 L119.32,395.96 L119.82,396.36 L120.32,396.75 L120.82,397.14 L121.31,397.53 L121.81,397.92 L122.31,398.31 L122.81,398.70 L123.30,399.08 L123.80,399.47 L124.30,399.85 L124.80,400.24 L125.30,400.62 L125.79,401.00 L126.29,401.38 L126.79,401.76 L127.29,402.14 L127.79,402.51 L128.28,402.89 L128.78,403.26 L129.28,403.64 L129.78,404.01 L130.27,404.38 L130.77,404.75 L131.27,405.12 L131.77,405.49 L132.27,405.85 L132.76,406.22 L133.26,406.58 L133.76,406.95 L134.26,407.31 L134.76,407.67 L135.25,408.03 L135.75,408.38 L136.25,408.74 L136.75,409.09 L137.24,409.45 L137.74,409.80 L138.24,410.15 L138.74,410.50 L139.24,410.85 L139.73,411.20 L140.23,411.54 L140.73,411.89 L141.23,412.23 L141.72,412.57 L142.22,412.91 L142.72,413.25 L143.22,413.59 L143.72,413.92 L144.21,414.26 L144.71,414.59 L145.21,414.92 L145.71,415.25 L146.21,415.58 L146.70,415.91 L147.20,416.23 L147.70,416.55 L148.20,416.88 L148.69,417.20 L149.19,417.52 L149.69,417.83 L150.19,418.15 L150.69,418.47 L151.18,418.78 L151.68,419.09 L152.18,419.40 L152.68,419.71 L153.27,303.29 L154.27,303.91 L155.26,304.53 L156.26,305.17 L157.26,305.80 L158.25,306.45 L159.25,307.09 L160.24,307.75 L161.24,308.41 L162.23,309.08 L163.23,309.75 L164.23,310.43 L165.22,311.11 L166.22,311.80 L167.21,312.50 L168.21,313.20 L169.20,313.91 L170.20,314.62 L171.19,315.33 L172.19,316.05 L173.19,316.78 L174.18,317.51 L175.18,318.25 L176.17,318.99 L177.17,319.74 L178.16,320.49 L179.16,321.24 L180.16,322.00 L181.15,322.76 L182.15,323.53 L183.14,324.30 L184.14,325.08 L185.13,325.86 L186.13,326.64 L187.13,327.43 L188.12,328.22 L189.12,329.02 L190.11,329.82 L191.11,330.62 L192.10,331.43 L193.10,332.24 L194.10,333.05 L195.09,333.86 L196.09,334.68 L197.08,335.50 L198.08,336.33 L199.07,337.16 L200.07,337.99 L201.06,338.82 L202.06,339.65 L203.06,340.49 L204.05,341.33 L205.05,342.17 L206.04,343.02 L207.04,343.86 L208.03,344.71 L209.03,345.56 L210.03,346.41 L211.02,347.26 L212.02,348.12 L213.01,348.98 L214.01,349.83 L215.00,350.69 L216.00,351.55 L217.00,352.41 L217.99,353.28 L218.99,354.14 L219.98,355.00 L220.98,355.87 L221.97,356.73 L222.97,357.60 L223.97,358.47 L224.96,359.33 L225.96,360.20 L226.95,361.07 L227.95,361.93 L228.94,362.80 L229.94,363.67 L230.93,364.53 L231.93,365.40 L232.93,366.27 L233.92,367.13 L234.92,368.00 L235.91,368.86 L236.91,369.72 L237.90,370.59 L238.90,371.45 L239.90,372.31 L240.89,373.17 L241.89,374.02 L242.88,374.88 L243.88,375.74 L244.87,376.59 L245.87,377.44 L246.87,378.29 L247.86,379.14 L248.86,379.98 L249.85,380.83 L250.85,381.67 L251.84,382.51 L252.84,383.35 L253.84,384.18 L254.83,385.01 L255.83,385.84 L256.82,386.67 L257.82,387.50 L258.81,388.32 L259.81,389.14 L260.80,389.95 L261.80,390.76 L262.80,391.57 L263.79,392.38 L264.79,393.18 L265.78,393.98 L266.78,394.78 L267.77,395.57 L268.77,396.36 L269.77,397.14 L270.76,397.92 L271.76,398.70 L272.75,399.47 L273.75,400.24 L274.74,401.00 L275.74,401.76 L276.74,402.51 L277.73,403.26 L278.73,404.01 L279.72,404.75 L280.72,405.49 L281.71,406.22 L282.71,406.95 L283.71,407.67 L284.70,408.38 L285.70,409.09 L286.69,409.80 L287.69,410.50 L288.68,411.20 L289.68,411.89 L290.67,412.57 L291.67,413.25 L292.67,413.92 L293.66,414.59 L294.66,415.25 L295.65,415.91 L296.65,416.55 L297.64,417.20 L298.64,417.83 L299.64,418.47 L300.63,419.09 L301.63,419.71 L302.22,303.29 L302.72,303.60 L303.22,303.91 L303.72,304.22 L304.21,304.53 L304.71,304.85 L305.21,305.17 L305.71,305.48 L306.21,305.80 L306.70,306.12 L307.20,306.45 L307.70,306.77 L308.20,307.09 L308.69,307.42 L309.19,307.75 L309.69,308.08 L310.19,308.41 L310.69,308.74 L311.18,309.08 L311.68,309.41 L312.18,309.75 L312.68,310.09 L313.18,310.43 L313.67,310.77 L314.17,311.11 L314.67,311.46 L315.17,311.80 L315.66,312.15 L316.16,312.50 L316.66,312.85 L317.16,313.20 L317.66,313.55 L318.15,313.91 L318.65,314.26 L319.15,314.62 L319.65,314.97 L320.14,315.33 L320.64,315.69 L321.14,316.05 L321.64,316.42 L322.14,316.78 L322.63,317.15 L323.13,317.51 L323.63,317.88 L324.13,318.25 L324.63,318.62 L325.12,318.99 L325.62,319.36 L326.12,319.74 L326.62,320.11 L327.11,320.49 L327.61,320.86 L328.11,321.24 L328.61,321.62 L329.11,322.00 L329.60,322.38 L330.10,322.76 L330.60,323.15 L331.10,323.53 L331.60,323.92 L332.09,324.30 L332.59,324.69 L333.09,325.08 L333.59,325.47 L334.08,325.86 L334.58,326.25 L335.08,326.64 L335.58,327.04 L336.08,327.43 L336.57,327.83 L337.07,328.22 L337.57,328.62 L338.07,329.02 L338.56,329.42 L339.06,329.82 L339.56,330.22 L340.06,330.62 L340.56,331.02 L341.05,331.43 L341.55,331.83 L342.05,332.24 L342.55,332.64 L343.05,333.05 L343.54,333.46 L344.04,333.86 L344.54,334.27 L345.04,334.68 L345.53,335.09 L346.03,335.50 L346.53,335.92 L347.03,336.33 L347.53,336.74 L348.02,337.16 L348.52,337.57 L349.02,337.99 L349.52,338.40 L350.01,338.82 L350.51,339.23 L351.01,339.65 L351.51,340.07 L352.01,340.49 L352.50,340.91 L353.00,341.33 L353.50,341.75 L354.00,342.17 L354.50,342.59 L354.99,343.02 L355.49,343.44 L355.99,343.86 L356.49,344.29 L356.98,344.71 L357.48,345.13 L357.98,345.56 L358.48,345.99 L358.98,346.41 L359.47,346.84 L359.97,347.26 L360.47,347.69 L360.97,348.12 L361.47,348.55 L361.96,348.98 L362.46,349.40 L362.96,349.83 L363.46,350.26 L363.95,350.69 L364.45,351.12 L364.95,351.55 L365.45,351.98 L365.95,352.41 L366.44,352.85 L366.94,353.28 L367.44,353.71 L367.94,354.14 L368.43,354.57 L368.93,355.00 L369.43,355.44 L369.93,355.87 L370.43,356.30 L370.92,356.73 L371.42,357.17 L371.92,357.60 L372.42,358.03 L372.92,358.47 L373.41,358.90 L373.91,359.33 L374.41,359.77 L374.91,360.20 L375.40,360.63 L375.90,361.07 L376.40,361.50" stroke="#bb1f2a"/>
<path d="M78.50,361.50 L78.87,361.78 L79.24,362.07 L79.62,362.35 L79.99,362.64 L80.36,362.92 L80.73,363.21 L81.11,363.49 L81.48,363.78 L81.85,364.06 L82.22,364.34 L82.60,364.63 L82.97,364.91 L83.34,365.19 L83.71,365.48 L84.09,365.76 L84.46,366.04 L84.83,366.33 L85.20,366.61 L85.58,366.89 L85.95,367.17 L86.32,367.45 L86.69,367.73 L87.06,368.02 L87.44,368.30 L87.81,368.58 L88.18,368.86 L88.55,369.13 L88.93,369.41 L89.30,369.69 L89.67,369.97 L90.04,370.25 L90.42,370.52 L90.79,370.80 L91.16,371.08 L91.53,371.35 L91.91,371.63 L92.28,371.90 L92.65,372.18 L93.02,372.45 L93.39,372.72 L93.77,372.99 L94.14,373.26 L94.51,373.53 L94.88,373.80 L95.26,374.07 L95.63,374.34 L96.00,374.61 L96.37,374.88 L96.75,375.14 L97.12,375.41 L97.49,375.67 L97.86,375.93 L98.24,376.20 L98.61,376.46 L98.98,376.72 L99.35,376.98 L99.73,377.24 L100.10,377.49 L100.47,377.75 L100.84,378.01 L101.21,378.26 L101.59,378.51 L101.96,378.76 L102.33,379.02 L102.70,379.26 L103.08,379.51 L103.45,379.76 L103.82,380.00 L104.19,380.25 L104.57,380.49 L104.94,380.73 L105.31,380.97 L105.68,381.21 L106.06,381.45 L106.43,381.68 L106.80,381.92 L107.17,382.15 L107.55,382.38 L107.92,382.61 L108.29,382.83 L108.66,383.06 L109.03,383.28 L109.41,383.50 L109.78,383.72 L110.15,383.93 L110.52,384.15 L110.90,384.36 L111.27,384.57 L111.64,384.78 L112.01,384.99 L112.39,385.19 L112.76,385.39 L113.13,385.59 L113.50,385.78 L113.88,385.98 L114.25,386.17 L114.62,386.35 L114.99,386.54 L115.37,386.72 L115.74,386.90 L116.11,387.07 L116.48,387.25 L116.85,387.42 L117.23,387.58 L117.60,387.74 L117.97,387.90 L118.34,388.06 L118.72,388.21 L119.09,388.36 L119.46,388.50 L119.83,388.64 L120.21,388.78 L120.58,388.91 L120.95,389.03 L121.32,389.16 L121.70,389.27 L122.07,389.39 L122.44,389.49 L122.81,389.60 L123.19,389.69 L123.56,389.79 L123.93,389.87 L124.30,389.95 L124.67,390.03 L125.05,390.10 L125.42,390.16 L125.79,390.22 L126.16,390.27 L126.54,390.31 L126.91,390.34 L127.28,390.37 L127.65,390.39 L128.03,390.41 L128.40,390.41 L128.77,390.41 L129.14,390.40 L129.52,390.38 L129.89,390.35 L130.26,390.32 L130.63,390.27 L131.00,390.21 L131.38,390.15 L131.75,390.07 L132.12,389.98 L132.49,389.89 L132.87,389.78 L133.24,389.66 L133.61,389.53 L133.98,389.38 L134.36,389.23 L134.73,389.06 L135.10,388.88 L135.47,388.68 L135.85,388.48 L136.22,388.25 L136.59,388.02 L136.96,387.76 L137.34,387.50 L137.71,387.22 L138.08,386.92 L138.45,386.61 L138.82,386.28 L139.20,385.93 L139.57,385.57 L139.94,385.19 L140.31,384.79 L140.69,384.38 L141.06,383.95 L141.43,383.50 L141.80,383.03 L142.18,382.54 L142.55,382.04 L142.92,381.51 L143.29,380.97 L143.67,380.41 L144.04,379.83 L144.41,379.23 L144.78,378.62 L145.16,377.99 L145.53,377.34 L145.90,376.67 L146.27,375.98 L146.64,375.28 L147.02,374.56 L147.39,373.83 L147.76,373.08 L148.13,372.32 L148.51,371.54 L148.88,370.75 L149.25,369.95 L149.62,369.14 L150.00,368.32 L150.37,367.49 L150.74,366.65 L151.11,365.80 L151.49,364.95 L151.86,364.09 L152.23,363.23 L152.60,362.36 L152.97,361.50 L153.35,360.64 L153.72,359.77 L154.09,358.91 L154.46,358.05 L154.84,357.20 L155.21,356.35 L155.58,355.51 L155.95,354.68 L156.33,353.86 L156.70,353.05 L157.07,352.25 L157.44,351.46 L157.82,350.68 L158.19,349.92 L158.56,349.17 L158.93,348.44 L159.31,347.72 L159.68,347.02 L160.05,346.33 L160.42,345.66 L160.79,345.01 L161.17,344.38 L161.54,343.77 L161.91,343.17 L162.28,342.59 L162.66,342.03 L163.03,341.49 L163.40,340.96 L163.77,340.46 L164.15,339.97 L164.52,339.50 L164.89,339.05 L165.26,338.62 L165.64,338.21 L166.01,337.81 L166.38,337.43 L166.75,337.07 L167.13,336.72 L167.50,336.39 L167.87,336.08 L168.24,335.78 L168.61,335.50 L168.99,335.24 L169.36,334.98 L169.73,334.75 L170.10,334.52 L170.48,334.32 L170.85,334.12 L171.22,333.94 L171.59,333.77 L171.97,333.62 L172.34,333.47 L172.71,333.34 L173.08,333.22 L173.46,333.11 L173.83,333.02 L174.20,332.93 L174.57,332.85 L174.95,332.79 L175.32,332.73 L175.69,332.68 L176.06,332.65 L176.43,332.62 L176.81,332.60 L177.18,332.59 L177.55,332.59 L177.92,332.59 L178.30,332.61 L178.67,332.63 L179.04,332.66 L179.41,332.69 L179.79,332.73 L180.16,332.78 L180.53,332.84 L180.90,332.90 L181.28,332.97 L181.65,333.05 L182.02,333.13 L182.39,333.21 L182.76,333.31 L183.14,333.40 L183.51,333.51 L183.88,333.61 L184.25,333.73 L184.63,333.84 L185.00,333.97 L185.37,334.09 L185.74,334.22 L186.12,334.36 L186.49,334.50 L186.86,334.64 L187.23,334.79 L187.61,334.94 L187.98,335.10 L188.35,335.26 L188.72,335.42 L189.10,335.58 L189.47,335.75 L189.84,335.93 L190.21,336.10 L190.58,336.28 L190.96,336.46 L191.33,336.65 L191.70,336.83 L192.07,337.02 L192.45,337.22 L192.82,337.41 L193.19,337.61 L193.56,337.81 L193.94,338.01 L194.31,338.22 L194.68,338.43 L195.05,338.64 L195.43,338.85 L195.80,339.07 L196.17,339.28 L196.54,339.50 L196.92,339.72 L197.29,339.94 L197.66,340.17 L198.03,340.39 L198.40,340.62 L198.78,340.85 L199.15,341.08 L199.52,341.32 L199.89,341.55 L200.27,341.79 L200.64,342.03 L201.01,342.27 L201.38,342.51 L201.76,342.75 L202.13,343.00 L202.50,343.24 L202.87,343.49 L203.25,343.74 L203.62,343.98 L203.99,344.24 L204.36,344.49 L204.74,344.74 L205.11,344.99 L205.48,345.25 L205.85,345.51 L206.22,345.76 L206.60,346.02 L206.97,346.28 L207.34,346.54 L207.71,346.80 L208.09,347.07 L208.46,347.33 L208.83,347.59 L209.20,347.86 L209.58,348.12 L209.95,348.39 L210.32,348.66 L210.69,348.93 L211.07,349.20 L211.44,349.47 L211.81,349.74 L212.18,350.01 L212.56,350.28 L212.93,350.55 L213.30,350.82 L213.67,351.10 L214.04,351.37 L214.42,351.65 L214.79,351.92 L215.16,352.20 L215.53,352.48 L215.91,352.75 L216.28,353.03 L216.65,353.31 L217.02,353.59 L217.40,353.87 L217.77,354.14 L218.14,354.42 L218.51,354.70 L218.89,354.98 L219.26,355.27 L219.63,355.55 L220.00,355.83 L220.37,356.11 L220.75,356.39 L221.12,356.67 L221.49,356.96 L221.86,357.24 L222.24,357.52 L222.61,357.81 L222.98,358.09 L223.35,358.37 L223.73,358.66 L224.10,358.94 L224.47,359.22 L224.84,359.51 L225.22,359.79 L225.59,360.08 L225.96,360.36 L226.33,360.65 L226.71,360.93 L227.08,361.22 L227.45,361.50 L227.82,361.78 L228.19,362.07 L228.57,362.35 L228.94,362.64 L229.31,362.92 L229.68,363.21 L230.06,363.49 L230.43,363.78 L230.80,364.06 L231.17,364.34 L231.55,364.63 L231.92,364.91 L232.29,365.19 L232.66,365.48 L233.04,365.76 L233.41,366.04 L233.78,366.33 L234.15,366.61 L234.53,366.89 L234.90,367.17 L235.27,367.45 L235.64,367.73 L236.01,368.02 L236.39,368.30 L236.76,368.58 L237.13,368.86 L237.50,369.13 L237.88,369.41 L238.25,369.69 L238.62,369.97 L238.99,370.25 L239.37,370.52 L239.74,370.80 L240.11,371.08 L240.48,371.35 L240.86,371.63 L241.23,371.90 L241.60,372.18 L241.97,372.45 L242.34,372.72 L242.72,372.99 L243.09,373.26 L243.46,373.53 L243.83,373.80 L244.21,374.07 L244.58,374.34 L244.95,374.61 L245.32,374.88 L245.70,375.14 L246.07,375.41 L246.44,375.67 L246.81,375.93 L247.19,376.20 L247.56,376.46 L247.93,376.72 L248.30,376.98 L248.68,377.24 L249.05,377.49 L249.42,377.75 L249.79,378.01 L250.16,378.26 L250.54,378.51 L250.91,378.76 L251.28,379.02 L251.65,379.26 L252.03,379.51 L252.40,379.76 L252.77,380.00 L253.14,380.25 L253.52,380.49 L253.89,380.73 L254.26,380.97 L254.63,381.21 L255.01,381.45 L255.38,381.68 L255.75,381.92 L256.12,382.15 L256.50,382.38 L256.87,382.61 L257.24,382.83 L257.61,383.06 L257.98,383.28 L258.36,383.50 L258.73,383.72 L259.10,383.93 L259.47,384.15 L259.85,384.36 L260.22,384.57 L260.59,384.78 L260.96,384.99 L261.34,385.19 L261.71,385.39 L262.08,385.59 L262.45,385.78 L262.83,385.98 L263.20,386.17 L263.57,386.35 L263.94,386.54 L264.32,386.72 L264.69,386.90 L265.06,387.07 L265.43,387.25 L265.80,387.42 L266.18,387.58 L266.55,387.74 L266.92,387.90 L267.29,388.06 L267.67,388.21 L268.04,388.36 L268.41,388.50 L268.78,388.64 L269.16,388.78 L269.53,388.91 L269.90,389.03 L270.27,389.16 L270.65,389.27 L271.02,389.39 L271.39,389.49 L271.76,389.60 L272.13,389.69 L272.51,389.79 L272.88,389.87 L273.25,389.95 L273.62,390.03 L274.00,390.10 L274.37,390.16 L274.74,390.22 L275.11,390.27 L275.49,390.31 L275.86,390.34 L276.23,390.37 L276.60,390.39 L276.98,390.41 L277.35,390.41 L277.72,390.41 L278.09,390.40 L278.47,390.38 L278.84,390.35 L279.21,390.32 L279.58,390.27 L279.95,390.21 L280.33,390.15 L280.70,390.07 L281.07,389.98 L281.44,389.89 L281.82,389.78 L282.19,389.66 L282.56,389.53 L282.93,389.38 L283.31,389.23 L283.68,389.06 L284.05,388.88 L284.42,388.68 L284.80,388.48 L285.17,388.25 L285.54,388.02 L285.91,387.76 L286.29,387.50 L286.66,387.22 L287.03,386.92 L287.40,386.61 L287.77,386.28 L288.15,385.93 L288.52,385.57 L288.89,385.19 L289.26,384.79 L289.64,384.38 L290.01,383.95 L290.38,383.50 L290.75,383.03 L291.13,382.54 L291.50,382.04 L291.87,381.51 L292.24,380.97 L292.62,380.41 L292.99,379.83 L293.36,379.23 L293.73,378.62 L294.11,377.99 L294.48,377.34 L294.85,376.67 L295.22,375.98 L295.59,375.28 L295.97,374.56 L296.34,373.83 L296.71,373.08 L297.08,372.32 L297.46,371.54 L297.83,370.75 L298.20,369.95 L298.57,369.14 L298.95,368.32 L299.32,367.49 L299.69,366.65 L300.06,365.80 L300.44,364.95 L300.81,364.09 L301.18,363.23 L301.55,362.36 L301.92,361.50 L302.30,360.64 L302.67,359.77 L303.04,358.91 L303.41,358.05 L303.79,357.20 L304.16,356.35 L304.53,355.51 L304.90,354.68 L305.28,353.86 L305.65,353.05 L306.02,352.25 L306.39,351.46 L306.77,350.68 L307.14,349.92 L307.51,349.17 L307.88,348.44 L308.26,347.72 L308.63,347.02 L309.00,346.33 L309.37,345.66 L309.74,345.01 L310.12,344.38 L310.49,343.77 L310.86,343.17 L311.23,342.59 L311.61,342.03 L311.98,341.49 L312.35,340.96 L312.72,340.46 L313.10,339.97 L313.47,339.50 L313.84,339.05 L314.21,338.62 L314.59,338.21 L314.96,337.81 L315.33,337.43 L315.70,337.07 L316.08,336.72 L316.45,336.39 L316.82,336.08 L317.19,335.78 L317.56,335.50 L317.94,335.24 L318.31,334.98 L318.68,334.75 L319.05,334.52 L319.43,334.32 L319.80,334.12 L320.17,333.94 L320.54,333.77 L320.92,333.62 L321.29,333.47 L321.66,333.34 L322.03,333.22 L322.41,333.11 L322.78,333.02 L323.15,332.93 L323.52,332.85 L323.90,332.79 L324.27,332.73 L324.64,332.68 L325.01,332.65 L325.38,332.62 L325.76,332.60 L326.13,332.59 L326.50,332.59 L326.87,332.59 L327.25,332.61 L327.62,332.63 L327.99,332.66 L328.36,332.69 L328.74,332.73 L329.11,332.78 L329.48,332.84 L329.85,332.90 L330.23,332.97 L330.60,333.05 L330.97,333.13 L331.34,333.21 L331.71,333.31 L332.09,333.40 L332.46,333.51 L332.83,333.61 L333.20,333.73 L333.58,333.84 L333.95,333.97 L334.32,334.09 L334.69,334.22 L335.07,334.36 L335.44,334.50 L335.81,334.64 L336.18,334.79 L336.56,334.94 L336.93,335.10 L337.30,335.26 L337.67,335.42 L338.05,335.58 L338.42,335.75 L338.79,335.93 L339.16,336.10 L339.53,336.28 L339.91,336.46 L340.28,336.65 L340.65,336.83 L341.02,337.02 L341.40,337.22 L341.77,337.41 L342.14,337.61 L342.51,337.81 L342.89,338.01 L343.26,338.22 L343.63,338.43 L344.00,338.64 L344.38,338.85 L344.75,339.07 L345.12,339.28 L345.49,339.50 L345.87,339.72 L346.24,339.94 L346.61,340.17 L346.98,340.39 L347.35,340.62 L347.73,340.85 L348.10,341.08 L348.47,341.32 L348.84,341.55 L349.22,341.79 L349.59,342.03 L349.96,342.27 L350.33,342.51 L350.71,342.75 L351.08,343.00 L351.45,343.24 L351.82,343.49 L352.20,343.74 L352.57,343.98 L352.94,344.24 L353.31,344.49 L353.69,344.74 L354.06,344.99 L354.43,345.25 L354.80,345.51 L355.17,345.76 L355.55,346.02 L355.92,346.28 L356.29,346.54 L356.66,346.80 L357.04,347.07 L357.41,347.33 L357.78,347.59 L358.15,347.86 L358.53,348.12 L358.90,348.39 L359.27,348.66 L359.64,348.93 L360.02,349.20 L360.39,349.47 L360.76,349.74 L361.13,350.01 L361.50,350.28 L361.88,350.55 L362.25,350.82 L362.62,351.10 L362.99,351.37 L363.37,351.65 L363.74,351.92 L364.11,352.20 L364.48,352.48 L364.86,352.75 L365.23,353.03 L365.60,353.31 L365.97,353.59 L366.35,353.87 L366.72,354.14 L367.09,354.42 L367.46,354.70 L367.84,354.98 L368.21,355.27 L368.58,355.55 L368.95,355.83 L369.32,356.11 L369.70,356.39 L370.07,356.67 L370.44,356.96 L370.81,357.24 L371.19,357.52 L371.56,357.81 L371.93,358.09 L372.30,358.37 L372.68,358.66 L373.05,358.94 L373.42,359.22 L373.79,359.51 L374.17,359.79 L374.54,360.08 L374.91,360.36 L375.28,360.65 L375.66,360.93 L376.03,361.22 L376.40,361.50" stroke="#1fb01f"/>
<path d="M78.50,361.50 L78.87,361.68 L79.24,361.87 L79.62,362.05 L79.99,362.24 L80.36,362.42 L80.73,362.61 L81.11,362.79 L81.48,362.98 L81.85,363.16 L82.22,363.34 L82.60,363.53 L82.97,363.71 L83.34,363.89 L83.71,364.08 L84.09,364.26 L84.46,364.44 L84.83,364.62 L85.20,364.80 L85.58,364.98 L85.95,365.16 L86.32,365.34 L86.69,365.52 L87.06,365.70 L87.44,365.88 L87.81,366.05 L88.18,366.23 L88.55,366.40 L88.93,366.58 L89.30,366.75 L89.67,366.93 L90.04,367.10 L90.42,367.27 L90.79,367.44 L91.16,367.61 L91.53,367.78 L91.91,367.95 L92.28,368.12 L92.65,368.29 L93.02,368.45 L93.39,368.62 L93.77,368.78 L94.14,368.94 L94.51,369.10 L94.88,369.26 L95.26,369.42 L95.63,369.58 L96.00,369.74 L96.37,369.89 L96.75,370.05 L97.12,370.20 L97.49,370.35 L97.86,370.50 L98.24,370.65 L98.61,370.79 L98.98,370.94 L99.35,371.08 L99.73,371.23 L100.10,371.37 L100.47,371.51 L100.84,371.64 L101.21,371.78 L101.59,371.91 L101.96,372.05 L102.33,372.18 L102.70,372.31 L103.08,372.43 L103.45,372.56 L103.82,372.68 L104.19,372.80 L104.57,372.92 L104.94,373.04 L105.31,373.16 L105.68,373.27 L106.06,373.38 L106.43,373.49 L106.80,373.60 L107.17,373.70 L107.55,373.80 L107.92,373.90 L108.29,374.00 L108.66,374.10 L109.03,374.19 L109.41,374.28 L109.78,374.37 L110.15,374.45 L110.52,374.54 L110.90,374.62 L111.27,374.69 L111.64,374.77 L112.01,374.84 L112.39,374.91 L112.76,374.98 L113.13,375.04 L113.50,375.10 L113.88,375.16 L114.25,375.22 L114.62,375.27 L114.99,375.32 L115.37,375.37 L115.74,375.41 L116.11,375.45 L116.48,375.49 L116.85,375.52 L117.23,375.55 L117.60,375.58 L117.97,375.60 L118.34,375.62 L118.72,375.64 L119.09,375.65 L119.46,375.66 L119.83,375.67 L120.21,375.68 L120.58,375.68 L120.95,375.67 L121.32,375.66 L121.70,375.65 L122.07,375.64 L122.44,375.62 L122.81,375.60 L123.19,375.57 L123.56,375.54 L123.93,375.51 L124.30,375.47 L124.67,375.43 L125.05,375.39 L125.42,375.34 L125.79,375.29 L126.16,375.23 L126.54,375.17 L126.91,375.10 L127.28,375.03 L127.65,374.96 L128.03,374.88 L128.40,374.80 L128.77,374.72 L129.14,374.63 L129.52,374.54 L129.89,374.44 L130.26,374.34 L130.63,374.23 L131.00,374.12 L131.38,374.01 L131.75,373.89 L132.12,373.77 L132.49,373.64 L132.87,373.51 L133.24,373.38 L133.61,373.24 L133.98,373.09 L134.36,372.95 L134.73,372.80 L135.10,372.64 L135.47,372.48 L135.85,372.32 L136.22,372.15 L136.59,371.98 L136.96,371.81 L137.34,371.63 L137.71,371.44 L138.08,371.26 L138.45,371.07 L138.82,370.87 L139.20,370.68 L139.57,370.47 L139.94,370.27 L140.31,370.06 L140.69,369.85 L141.06,369.64 L141.43,369.42 L141.80,369.20 L142.18,368.97 L142.55,368.74 L142.92,368.51 L143.29,368.28 L143.67,368.04 L144.04,367.80 L144.41,367.56 L144.78,367.32 L145.16,367.07 L145.53,366.82 L145.90,366.57 L146.27,366.32 L146.64,366.06 L147.02,365.80 L147.39,365.54 L147.76,365.28 L148.13,365.02 L148.51,364.75 L148.88,364.49 L149.25,364.22 L149.62,363.95 L150.00,363.68 L150.37,363.41 L150.74,363.14 L151.11,362.87 L151.49,362.60 L151.86,362.32 L152.23,362.05 L152.60,361.77 L152.97,361.50 L153.35,361.23 L153.72,360.95 L154.09,360.68 L154.46,360.40 L154.84,360.13 L155.21,359.86 L155.58,359.59 L155.95,359.32 L156.33,359.05 L156.70,358.78 L157.07,358.51 L157.44,358.25 L157.82,357.98 L158.19,357.72 L158.56,357.46 L158.93,357.20 L159.31,356.94 L159.68,356.68 L160.05,356.43 L160.42,356.18 L160.79,355.93 L161.17,355.68 L161.54,355.44 L161.91,355.20 L162.28,354.96 L162.66,354.72 L163.03,354.49 L163.40,354.26 L163.77,354.03 L164.15,353.80 L164.52,353.58 L164.89,353.36 L165.26,353.15 L165.64,352.94 L166.01,352.73 L166.38,352.53 L166.75,352.32 L167.13,352.13 L167.50,351.93 L167.87,351.74 L168.24,351.56 L168.61,351.37 L168.99,351.19 L169.36,351.02 L169.73,350.85 L170.10,350.68 L170.48,350.52 L170.85,350.36 L171.22,350.20 L171.59,350.05 L171.97,349.91 L172.34,349.76 L172.71,349.62 L173.08,349.49 L173.46,349.36 L173.83,349.23 L174.20,349.11 L174.57,348.99 L174.95,348.88 L175.32,348.77 L175.69,348.66 L176.06,348.56 L176.43,348.46 L176.81,348.37 L177.18,348.28 L177.55,348.20 L177.92,348.12 L178.30,348.04 L178.67,347.97 L179.04,347.90 L179.41,347.83 L179.79,347.77 L180.16,347.71 L180.53,347.66 L180.90,347.61 L181.28,347.57 L181.65,347.53 L182.02,347.49 L182.39,347.46 L182.76,347.43 L183.14,347.40 L183.51,347.38 L183.88,347.36 L184.25,347.35 L184.63,347.34 L185.00,347.33 L185.37,347.32 L185.74,347.32 L186.12,347.33 L186.49,347.34 L186.86,347.35 L187.23,347.36 L187.61,347.38 L187.98,347.40 L188.35,347.42 L188.72,347.45 L189.10,347.48 L189.47,347.51 L189.84,347.55 L190.21,347.59 L190.58,347.63 L190.96,347.68 L191.33,347.73 L191.70,347.78 L192.07,347.84 L192.45,347.90 L192.82,347.96 L193.19,348.02 L193.56,348.09 L193.94,348.16 L194.31,348.23 L194.68,348.31 L195.05,348.38 L195.43,348.46 L195.80,348.55 L196.17,348.63 L196.54,348.72 L196.92,348.81 L197.29,348.90 L197.66,349.00 L198.03,349.10 L198.40,349.20 L198.78,349.30 L199.15,349.40 L199.52,349.51 L199.89,349.62 L200.27,349.73 L200.64,349.84 L201.01,349.96 L201.38,350.08 L201.76,350.20 L202.13,350.32 L202.50,350.44 L202.87,350.57 L203.25,350.69 L203.62,350.82 L203.99,350.95 L204.36,351.09 L204.74,351.22 L205.11,351.36 L205.48,351.49 L205.85,351.63 L206.22,351.77 L206.60,351.92 L206.97,352.06 L207.34,352.21 L207.71,352.35 L208.09,352.50 L208.46,352.65 L208.83,352.80 L209.20,352.95 L209.58,353.11 L209.95,353.26 L210.32,353.42 L210.69,353.58 L211.07,353.74 L211.44,353.90 L211.81,354.06 L212.18,354.22 L212.56,354.38 L212.93,354.55 L213.30,354.71 L213.67,354.88 L214.04,355.05 L214.42,355.22 L214.79,355.39 L215.16,355.56 L215.53,355.73 L215.91,355.90 L216.28,356.07 L216.65,356.25 L217.02,356.42 L217.40,356.60 L217.77,356.77 L218.14,356.95 L218.51,357.12 L218.89,357.30 L219.26,357.48 L219.63,357.66 L220.00,357.84 L220.37,358.02 L220.75,358.20 L221.12,358.38 L221.49,358.56 L221.86,358.74 L222.24,358.92 L222.61,359.11 L222.98,359.29 L223.35,359.47 L223.73,359.66 L224.10,359.84 L224.47,360.02 L224.84,360.21 L225.22,360.39 L225.59,360.58 L225.96,360.76 L226.33,360.95 L226.71,361.13 L227.08,361.32 L227.45,361.50 L227.82,361.68 L228.19,361.87 L228.57,362.05 L228.94,362.24 L229.31,362.42 L229.68,362.61 L230.06,362.79 L230.43,362.98 L230.80,363.16 L231.17,363.34 L231.55,363.53 L231.92,363.71 L232.29,363.89 L232.66,364.08 L233.04,364.26 L233.41,364.44 L233.78,364.62 L234.15,364.80 L234.53,364.98 L234.90,365.16 L235.27,365.34 L235.64,365.52 L236.01,365.70 L236.39,365.88 L236.76,366.05 L237.13,366.23 L237.50,366.40 L237.88,366.58 L238.25,366.75 L238.62,366.93 L238.99,367.10 L239.37,367.27 L239.74,367.44 L240.11,367.61 L240.48,367.78 L240.86,367.95 L241.23,368.12 L241.60,368.29 L241.97,368.45 L242.34,368.62 L242.72,368.78 L243.09,368.94 L243.46,369.10 L243.83,369.26 L244.21,369.42 L244.58,369.58 L244.95,369.74 L245.32,369.89 L245.70,370.05 L246.07,370.20 L246.44,370.35 L246.81,370.50 L247.19,370.65 L247.56,370.79 L247.93,370.94 L248.30,371.08 L248.68,371.23 L249.05,371.37 L249.42,371.51 L249.79,371.64 L250.16,371.78 L250.54,371.91 L250.91,372.05 L251.28,372.18 L251.65,372.31 L252.03,372.43 L252.40,372.56 L252.77,372.68 L253.14,372.80 L253.52,372.92 L253.89,373.04 L254.26,373.16 L254.63,373.27 L255.01,373.38 L255.38,373.49 L255.75,373.60 L256.12,373.70 L256.50,373.80 L256.87,373.90 L257.24,374.00 L257.61,374.10 L257.98,374.19 L258.36,374.28 L258.73,374.37 L259.10,374.45 L259.47,374.54 L259.85,374.62 L260.22,374.69 L260.59,374.77 L260.96,374.84 L261.34,374.91 L261.71,374.98 L262.08,375.04 L262.45,375.10 L262.83,375.16 L263.20,375.22 L263.57,375.27 L263.94,375.32 L264.32,375.37 L264.69,375.41 L265.06,375.45 L265.43,375.49 L265.80,375.52 L266.18,375.55 L266.55,375.58 L266.92,375.60 L267.29,375.62 L267.67,375.64 L268.04,375.65 L268.41,375.66 L268.78,375.67 L269.16,375.68 L269.53,375.68 L269.90,375.67 L270.27,375.66 L270.65,375.65 L271.02,375.64 L271.39,375.62 L271.76,375.60 L272.13,375.57 L272.51,375.54 L272.88,375.51 L273.25,375.47 L273.62,375.43 L274.00,375.39 L274.37,375.34 L274.74,375.29 L275.11,375.23 L275.49,375.17 L275.86,375.10 L276.23,375.03 L276.60,374.96 L276.98,374.88 L277.35,374.80 L277.72,374.72 L278.09,374.63 L278.47,374.54 L278.84,374.44 L279.21,374.34 L279.58,374.23 L279.95,374.12 L280.33,374.01 L280.70,373.89 L281.07,373.77 L281.44,373.64 L281.82,373.51 L282.19,373.38 L282.56,373.24 L282.93,373.09 L283.31,372.95 L283.68,372.80 L284.05,372.64 L284.42,372.48 L284.80,372.32 L285.17,372.15 L285.54,371.98 L285.91,371.81 L286.29,371.63 L286.66,371.44 L287.03,371.26 L287.40,371.07 L287.77,370.87 L288.15,370.68 L288.52,370.47 L288.89,370.27 L289.26,370.06 L289.64,369.85 L290.01,369.64 L290.38,369.42 L290.75,369.20 L291.13,368.97 L291.50,368.74 L291.87,368.51 L292.24,368.28 L292.62,368.04 L292.99,367.80 L293.36,367.56 L293.73,367.32 L294.11,367.07 L294.48,366.82 L294.85,366.57 L295.22,366.32 L295.59,366.06 L295.97,365.80 L296.34,365.54 L296.71,365.28 L297.08,365.02 L297.46,364.75 L297.83,364.49 L298.20,364.22 L298.57,363.95 L298.95,363.68 L299.32,363.41 L299.69,363.14 L300.06,362.87 L300.44,362.60 L300.81,362.32 L301.18,362.05 L301.55,361.77 L301.92,361.50 L302.30,361.23 L302.67,360.95 L303.04,360.68 L303.41,360.40 L303.79,360.13 L304.16,359.86 L304.53,359.59 L304.90,359.32 L305.28,359.05 L305.65,358.78 L306.02,358.51 L306.39,358.25 L306.77,357.98 L307.14,357.72 L307.51,357.46 L307.88,357.20 L308.26,356.94 L308.63,356.68 L309.00,356.43 L309.37,356.18 L309.74,355.93 L310.12,355.68 L310.49,355.44 L310.86,355.20 L311.23,354.96 L311.61,354.72 L311.98,354.49 L312.35,354.26 L312.72,354.03 L313.10,353.80 L313.47,353.58 L313.84,353.36 L314.21,353.15 L314.59,352.94 L314.96,352.73 L315.33,352.53 L315.70,352.32 L316.08,352.13 L316.45,351.93 L316.82,351.74 L317.19,351.56 L317.56,351.37 L317.94,351.19 L318.31,351.02 L318.68,350.85 L319.05,350.68 L319.43,350.52 L319.80,350.36 L320.17,350.20 L320.54,350.05 L320.92,349.91 L321.29,349.76 L321.66,349.62 L322.03,349.49 L322.41,349.36 L322.78,349.23 L323.15,349.11 L323.52,348.99 L323.90,348.88 L324.27,348.77 L324.64,348.66 L325.01,348.56 L325.38,348.46 L325.76,348.37 L326.13,348.28 L326.50,348.20 L326.87,348.12 L327.25,348.04 L327.62,347.97 L327.99,347.90 L328.36,347.83 L328.74,347.77 L329.11,347.71 L329.48,347.66 L329.85,347.61 L330.23,347.57 L330.60,347.53 L330.97,347.49 L331.34,347.46 L331.71,347.43 L332.09,347.40 L332.46,347.38 L332.83,347.36 L333.20,347.35 L333.58,347.34 L333.95,347.33 L334.32,347.32 L334.69,347.32 L335.07,347.33 L335.44,347.34 L335.81,347.35 L336.18,347.36 L336.56,347.38 L336.93,347.40 L337.30,347.42 L337.67,347.45 L338.05,347.48 L338.42,347.51 L338.79,347.55 L339.16,347.59 L339.53,347.63 L339.91,347.68 L340.28,347.73 L340.65,347.78 L341.02,347.84 L341.40,347.90 L341.77,347.96 L342.14,348.02 L342.51,348.09 L342.89,348.16 L343.26,348.23 L343.63,348.31 L344.00,348.38 L344.38,348.46 L344.75,348.55 L345.12,348.63 L345.49,348.72 L345.87,348.81 L346.24,348.90 L346.61,349.00 L346.98,349.10 L347.35,349.20 L347.73,349.30 L348.10,349.40 L348.47,349.51 L348.84,349.62 L349.22,349.73 L349.59,349.84 L349.96,349.96 L350.33,350.08 L350.71,350.20 L351.08,350.32 L351.45,350.44 L351.82,350.57 L352.20,350.69 L352.57,350.82 L352.94,350.95 L353.31,351.09 L353.69,351.22 L354.06,351.36 L354.43,351.49 L354.80,351.63 L355.17,351.77 L355.55,351.92 L355.92,352.06 L356.29,352.21 L356.66,352.35 L357.04,352.50 L357.41,352.65 L357.78,352.80 L358.15,352.95 L358.53,353.11 L358.90,353.26 L359.27,353.42 L359.64,353.58 L360.02,353.74 L360.39,353.90 L360.76,354.06 L361.13,354.22 L361.50,354.38 L361.88,354.55 L362.25,354.71 L362.62,354.88 L362.99,355.05 L363.37,355.22 L363.74,355.39 L364.11,355.56 L364.48,355.73 L364.86,355.90 L365.23,356.07 L365.60,356.25 L365.97,356.42 L366.35,356.60 L366.72,356.77 L367.09,356.95 L367.46,357.12 L367.84,357.30 L368.21,357.48 L368.58,357.66 L368.95,357.84 L369.32,358.02 L369.70,358.20 L370.07,358.38 L370.44,358.56 L370.81,358.74 L371.19,358.92 L371.56,359.11 L371.93,359.29 L372.30,359.47 L372.68,359.66 L373.05,359.84 L373.42,360.02 L373.79,360.21 L374.17,360.39 L374.54,360.58 L374.91,360.76 L375.28,360.95 L375.66,361.13 L376.03,361.32 L376.40,361.50" stroke="#1a1ab4"/>
</g>
<text x="75.20" y="20.00" text-anchor="end" class="tk"><tspan dy="1">−</tspan><tspan dy="-1" dx="0.1">1</tspan></text><text x="75.20" y="112.00" text-anchor="end" class="tk"><tspan dy="1">−</tspan><tspan dy="-1" dx="0.1">4</tspan></text><text x="75.20" y="204.00" text-anchor="end" class="tk"><tspan dy="1">−</tspan><tspan dy="-1" dx="0.1">7</tspan></text><text x="79.30" y="214.90" text-anchor="middle" class="tk"><tspan dy="1">−</tspan><tspan dy="-1" dx="0.1">1</tspan></text><text x="228.05" y="214.90" text-anchor="middle" class="tk">0</text><text x="376.80" y="214.90" text-anchor="middle" class="tk">1</text>
<text x="75.00" y="273.20" text-anchor="end" class="tk">7</text><text x="75.00" y="365.20" text-anchor="end" class="tk">0</text><text x="75.00" y="457.20" text-anchor="end" class="tk"><tspan dy="1">−</tspan><tspan dy="-1" dx="0.1">7</tspan></text><text x="78.95" y="468.90" text-anchor="middle" class="tk"><tspan dy="1">−</tspan><tspan dy="-1" dx="0.1">1</tspan></text><text x="227.90" y="468.90" text-anchor="middle" class="tk">0</text><text x="376.85" y="468.90" text-anchor="middle" class="tk">1</text>
<path d="M168.0,138.00H183.9" stroke="#bb1f2a" stroke-width="1.3" fill="none"/><text x="188.3" y="142.10" class="lg">u<tspan dy="0.5" font-weight="bold">=</tspan><tspan dy="-0.5">0</tspan></text><path d="M168.0,159.50H183.9" stroke="#1fb01f" stroke-width="1.3" fill="none"/><text x="188.3" y="163.60" class="lg">u<tspan dy="0.5" font-weight="bold">=</tspan><tspan dy="-0.5">2</tspan></text><path d="M168.0,181.00H183.9" stroke="#1a1ab4" stroke-width="1.3" fill="none"/><text x="188.3" y="185.10" class="lg">u<tspan dy="0.5" font-weight="bold">=</tspan><tspan dy="-0.5">4</tspan></text>
<path d="M167.5,400.50H183.8" stroke="#bb1f2a" stroke-width="1.3" fill="none"/><text x="187.8" y="404.80" class="lg">u<tspan dy="0.5" font-weight="bold">=</tspan><tspan dy="-0.5">0</tspan></text><path d="M167.5,420.30H183.8" stroke="#1fb01f" stroke-width="1.3" fill="none"/><text x="187.8" y="424.60" class="lg">u<tspan dy="0.5" font-weight="bold">=</tspan><tspan dy="-0.5">2</tspan></text><path d="M167.5,440.00H183.8" stroke="#1a1ab4" stroke-width="1.3" fill="none"/><text x="187.8" y="444.30" class="lg">u<tspan dy="0.5" font-weight="bold">=</tspan><tspan dy="-0.5">4</tspan></text>
<text x="228.0" y="30.7" text-anchor="middle" class="ti">(a)</text>
<text x="227.5" y="286.6" text-anchor="middle" class="ti">(b)</text>
<text x="228.7" y="234.8" text-anchor="middle" class="ax" style="font-size:12.3px">ϕ</text>
<text x="228.15" y="488.5" text-anchor="middle" class="ax" style="font-size:12.3px">ϕ</text>
<text transform="translate(47.4,108) rotate(-90)" text-anchor="middle" class="ax">E<tspan dy="2.2" font-size="10">0</tspan><tspan dy="-2.2" font-style="normal" font-size="12.5">(</tspan>ϕ<tspan font-style="normal" font-size="12.5">)</tspan></text>
<text transform="translate(48.0,360.9) rotate(-90)" text-anchor="middle" class="ax"><tspan font-style="normal">I</tspan><tspan font-style="normal" font-size="12.5">(</tspan>ϕ<tspan font-style="normal" font-size="12.5">)</tspan></text>
</svg>
</body></html>
